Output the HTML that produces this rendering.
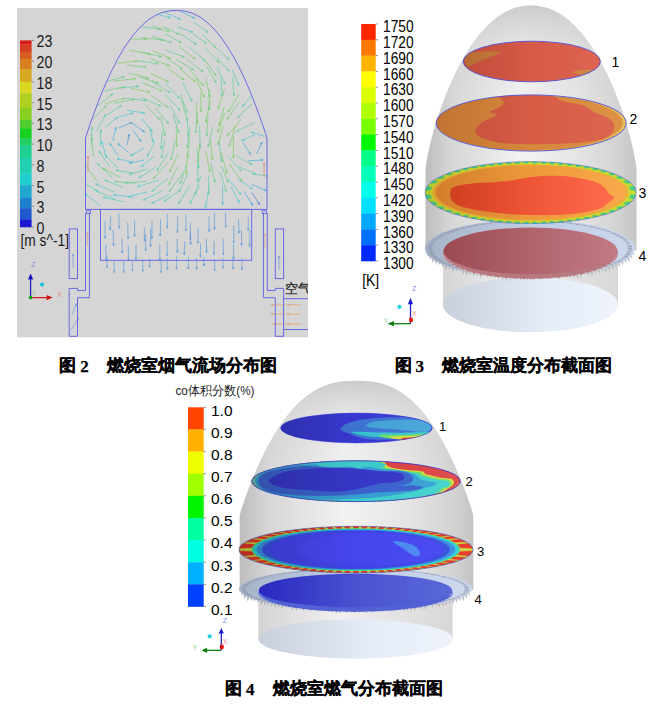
<!DOCTYPE html><html><head><meta charset="utf-8"><style>
html,body{margin:0;padding:0}
body{width:667px;height:706px;background:#fff;position:relative;overflow:hidden}
svg{position:absolute;left:0;top:0}
.lb{font-family:"Liberation Sans",sans-serif;font-size:16px;fill:#1a1a1a}
.lb3{font-family:"Liberation Sans",sans-serif;font-size:16.9px;fill:#000}
.lb4{font-family:"Liberation Sans",sans-serif;font-size:15.5px;fill:#000}
.nb{font-family:"Liberation Sans",sans-serif;font-size:14px;fill:#000}
.nb4{font-family:"Liberation Sans",sans-serif;font-size:13px;fill:#000}
.ax{font-family:"Liberation Sans",sans-serif;font-size:7px}
.zh{font-family:"Liberation Sans",sans-serif;fill:#222}
.cap{position:absolute;font-family:"Liberation Serif",serif;font-weight:bold;font-size:17px;line-height:20px;white-space:nowrap;color:#000;-webkit-text-stroke:0.25px #000}
</style></head><body>
<svg width="667" height="706" viewBox="0 0 667 706">
<defs>
<filter id="bl" x="-5%" y="-20%" width="110%" height="140%"><feGaussianBlur stdDeviation="0.45"/></filter>
<linearGradient id="eggG" x1="0" x2="1" y1="0" y2="0">
<stop offset="0" stop-color="#bdbdbd"/><stop offset="0.12" stop-color="#d6d6d6"/><stop offset="0.45" stop-color="#f2f2f2"/><stop offset="0.7" stop-color="#e6e6e6"/><stop offset="0.92" stop-color="#d2d2d2"/><stop offset="1" stop-color="#c4c4c4"/>
</linearGradient>
<linearGradient id="eggTop" x1="0" x2="0" y1="0" y2="1">
<stop offset="0" stop-color="#c8c8c8" stop-opacity="0.9"/><stop offset="0.18" stop-color="#d0d0d0" stop-opacity="0.3"/><stop offset="0.4" stop-color="#d0d0d0" stop-opacity="0"/>
</linearGradient>
<linearGradient id="eggTop4" x1="0" x2="0" y1="0" y2="1">
<stop offset="0" stop-color="#c8c8c8" stop-opacity="0.9"/><stop offset="0.18" stop-color="#d0d0d0" stop-opacity="0.3"/><stop offset="0.4" stop-color="#d0d0d0" stop-opacity="0"/>
</linearGradient>
<linearGradient id="cylG" x1="0" x2="1" y1="0" y2="0">
<stop offset="0" stop-color="#d4d4d4"/><stop offset="0.4" stop-color="#efefef"/><stop offset="1" stop-color="#d8d8d8"/>
</linearGradient>
<linearGradient id="baseG" x1="0" x2="1" y1="0" y2="0">
<stop offset="0" stop-color="#c9d0dc"/><stop offset="0.6" stop-color="#e6edf8"/><stop offset="1" stop-color="#eef3fb"/>
</linearGradient>
<linearGradient id="disc4" x1="0" x2="1" y1="0" y2="0">
<stop offset="0" stop-color="#9c4a52"/><stop offset="0.5" stop-color="#b0646c"/><stop offset="1" stop-color="#c07a82"/>
</linearGradient>
<linearGradient id="disc4b" x1="0" x2="1" y1="0" y2="0">
<stop offset="0" stop-color="#2828c0"/><stop offset="0.5" stop-color="#4a52d0"/><stop offset="1" stop-color="#5a68d8"/>
</linearGradient>
<linearGradient id="shade" x1="0" x2="1" y1="0" y2="0">
<stop offset="0" stop-color="#500000" stop-opacity="0.2"/><stop offset="0.5" stop-color="#500000" stop-opacity="0.04"/><stop offset="1" stop-color="#fff" stop-opacity="0.06"/>
</linearGradient>
<linearGradient id="shade4" x1="0" x2="1" y1="0" y2="0">
<stop offset="0" stop-color="#000" stop-opacity="0.2"/><stop offset="0.5" stop-color="#000" stop-opacity="0.03"/><stop offset="1" stop-color="#fff" stop-opacity="0.05"/>
</linearGradient>
<linearGradient id="ringG" x1="0" x2="1" y1="0" y2="0">
<stop offset="0" stop-color="#a6b4ca"/><stop offset="0.5" stop-color="#c0cce2"/><stop offset="1" stop-color="#ccd8ee"/>
</linearGradient>
<linearGradient id="or3" x1="0" x2="1" y1="0" y2="0">
<stop offset="0" stop-color="#e08a30"/><stop offset="0.5" stop-color="#f09c3c"/><stop offset="1" stop-color="#faa848"/>
</linearGradient>
<linearGradient id="rd3" x1="0" x2="1" y1="0" y2="0">
<stop offset="0" stop-color="#dc4424"/><stop offset="0.5" stop-color="#f25838"/><stop offset="1" stop-color="#ff6a4a"/>
</linearGradient>
</defs><clipPath id="c2"><rect x="17" y="8" width="291" height="329.3"/></clipPath>
<rect x="17" y="8" width="291" height="329.3" fill="#d5d5d5"/>
<g clip-path="url(#c2)">
<rect x="20" y="40.40" width="11.6" height="4.10" fill="#d81818"/>
<rect x="20" y="44.20" width="11.6" height="7.80" fill="#d83c20"/>
<rect x="20" y="51.70" width="11.6" height="7.40" fill="#d85c20"/>
<rect x="20" y="58.80" width="11.6" height="10.50" fill="#d88020"/>
<rect x="20" y="69.00" width="11.6" height="13.00" fill="#d8a820"/>
<rect x="20" y="81.70" width="11.6" height="12.00" fill="#d8d820"/>
<rect x="20" y="93.40" width="11.6" height="14.90" fill="#b0d020"/>
<rect x="20" y="108.00" width="11.6" height="12.00" fill="#88d020"/>
<rect x="20" y="119.70" width="11.6" height="8.90" fill="#50d030"/>
<rect x="20" y="128.30" width="11.6" height="10.40" fill="#18d020"/>
<rect x="20" y="138.40" width="11.6" height="7.00" fill="#20d060"/>
<rect x="20" y="145.10" width="11.6" height="12.90" fill="#20d090"/>
<rect x="20" y="157.70" width="11.6" height="16.00" fill="#20d0b0"/>
<rect x="20" y="173.40" width="11.6" height="12.20" fill="#20d0d0"/>
<rect x="20" y="185.30" width="11.6" height="12.90" fill="#20a8d0"/>
<rect x="20" y="197.90" width="11.6" height="10.70" fill="#2080d0"/>
<rect x="20" y="208.30" width="11.6" height="11.50" fill="#2058d0"/>
<rect x="20" y="219.50" width="11.6" height="7.80" fill="#1818d0"/>
<line x1="31.6" y1="40.4" x2="34" y2="40.4" stroke="#777" stroke-width="0.8"/>
<text x="36.6" y="47.4" class="lb" textLength="15.8" lengthAdjust="spacingAndGlyphs">23</text>
<line x1="31.6" y1="61.1" x2="34" y2="61.1" stroke="#777" stroke-width="0.8"/>
<text x="36.6" y="68.1" class="lb" textLength="15.8" lengthAdjust="spacingAndGlyphs">20</text>
<line x1="31.6" y1="81.9" x2="34" y2="81.9" stroke="#777" stroke-width="0.8"/>
<text x="36.6" y="88.9" class="lb" textLength="15.8" lengthAdjust="spacingAndGlyphs">18</text>
<line x1="31.6" y1="102.6" x2="34" y2="102.6" stroke="#777" stroke-width="0.8"/>
<text x="36.6" y="109.6" class="lb" textLength="15.8" lengthAdjust="spacingAndGlyphs">15</text>
<line x1="31.6" y1="123.3" x2="34" y2="123.3" stroke="#777" stroke-width="0.8"/>
<text x="36.6" y="130.3" class="lb" textLength="15.8" lengthAdjust="spacingAndGlyphs">13</text>
<line x1="31.6" y1="144.1" x2="34" y2="144.1" stroke="#777" stroke-width="0.8"/>
<text x="36.6" y="151.1" class="lb" textLength="15.8" lengthAdjust="spacingAndGlyphs">10</text>
<line x1="31.6" y1="164.8" x2="34" y2="164.8" stroke="#777" stroke-width="0.8"/>
<text x="36.6" y="171.8" class="lb" textLength="7.9" lengthAdjust="spacingAndGlyphs">8</text>
<line x1="31.6" y1="185.5" x2="34" y2="185.5" stroke="#777" stroke-width="0.8"/>
<text x="36.6" y="192.5" class="lb" textLength="7.9" lengthAdjust="spacingAndGlyphs">5</text>
<line x1="31.6" y1="206.3" x2="34" y2="206.3" stroke="#777" stroke-width="0.8"/>
<text x="36.6" y="213.3" class="lb" textLength="7.9" lengthAdjust="spacingAndGlyphs">3</text>
<line x1="31.6" y1="227.0" x2="34" y2="227.0" stroke="#777" stroke-width="0.8"/>
<text x="36.6" y="234.0" class="lb" textLength="7.9" lengthAdjust="spacingAndGlyphs">0</text>
<text x="20.5" y="245.5" class="lb" textLength="48.5" lengthAdjust="spacingAndGlyphs">[m s^-1]</text>
<clipPath id="cd"><path d="M85.50,138.00 L86.60,134.62 L87.71,131.27 L88.82,127.95 L89.94,124.67 L91.06,121.43 L92.19,118.22 L93.33,115.05 L94.47,111.91 L95.62,108.81 L96.77,105.74 L97.93,102.71 L99.09,99.72 L100.27,96.76 L101.45,93.85 L102.63,90.97 L103.83,88.12 L105.03,85.32 L106.24,82.56 L107.45,79.83 L108.68,77.14 L109.91,74.50 L111.15,71.89 L112.40,69.33 L113.66,66.81 L114.93,64.32 L116.21,61.88 L117.50,59.49 L118.80,57.13 L120.11,54.82 L121.43,52.56 L122.77,50.34 L124.12,48.16 L125.48,46.03 L126.85,43.95 L128.24,41.92 L129.64,39.93 L131.07,37.99 L132.50,36.11 L133.96,34.27 L135.43,32.48 L136.93,30.75 L138.44,29.07 L139.98,27.45 L141.55,25.88 L143.14,24.37 L144.76,22.92 L146.41,21.54 L148.10,20.21 L149.82,18.95 L151.59,17.75 L153.41,16.63 L155.29,15.57 L157.23,14.60 L159.25,13.70 L161.36,12.89 L163.59,12.17 L165.98,11.56 L168.60,11.05 L171.63,10.68 L176.25,10.50 L180.87,10.68 L183.90,11.05 L186.52,11.56 L188.91,12.17 L191.14,12.89 L193.25,13.70 L195.27,14.60 L197.21,15.57 L199.09,16.63 L200.91,17.75 L202.68,18.95 L204.40,20.21 L206.09,21.54 L207.74,22.92 L209.36,24.37 L210.95,25.88 L212.52,27.45 L214.06,29.07 L215.57,30.75 L217.07,32.48 L218.54,34.27 L220.00,36.11 L221.43,37.99 L222.86,39.93 L224.26,41.92 L225.65,43.95 L227.02,46.03 L228.38,48.16 L229.73,50.34 L231.07,52.56 L232.39,54.82 L233.70,57.13 L235.00,59.49 L236.29,61.88 L237.57,64.32 L238.84,66.81 L240.10,69.33 L241.35,71.89 L242.59,74.50 L243.82,77.14 L245.05,79.83 L246.26,82.56 L247.47,85.32 L248.67,88.12 L249.87,90.97 L251.05,93.85 L252.23,96.76 L253.41,99.72 L254.57,102.71 L255.73,105.74 L256.88,108.81 L258.03,111.91 L259.17,115.05 L260.31,118.22 L261.44,121.43 L262.56,124.67 L263.68,127.95 L264.79,131.27 L265.90,134.62 L267.00,138.00 L267,209.4 L85.5,209.4 Z"/></clipPath>
<g clip-path="url(#cd)">
<path d="M153.3,13.2 L170.4,17.8 M167.8,18.0 L170.4,17.8 L168.2,16.3" stroke="#46c8d6" stroke-width="0.85" fill="none" opacity="0.80"/>
<path d="M164.1,12.0 L180.5,19.4 M177.9,19.2 L180.5,19.4 L178.6,17.6" stroke="#47c8d2" stroke-width="0.85" fill="none" opacity="0.80"/>
<path d="M180.9,11.4 L194.6,18.2 M192.1,17.9 L194.6,18.2 L192.8,16.3" stroke="#46b6d9" stroke-width="0.85" fill="none" opacity="0.80"/>
<path d="M141.2,26.6 L161.0,29.4 M158.4,30.0 L161.0,29.4 L158.7,28.2" stroke="#5ccd99" stroke-width="0.85" fill="none" opacity="0.80"/>
<path d="M152.6,26.1 L169.2,31.6 M166.6,31.7 L169.2,31.6 L167.2,30.0" stroke="#71cd68" stroke-width="0.85" fill="none" opacity="0.80"/>
<path d="M163.3,26.8 L178.9,34.2 M176.4,34.0 L178.9,34.2 L177.1,32.3" stroke="#67cd81" stroke-width="0.85" fill="none" opacity="0.80"/>
<path d="M177.4,26.7 L193.0,32.3 M190.4,32.3 L193.0,32.3 L191.0,30.6" stroke="#4dc9c1" stroke-width="0.85" fill="none" opacity="0.80"/>
<path d="M193.3,21.9 L208.1,32.5 M205.6,31.8 L208.1,32.5 L206.7,30.3" stroke="#58cca2" stroke-width="0.85" fill="none" opacity="0.80"/>
<path d="M127.4,39.4 L146.4,38.8 M144.0,39.7 L146.4,38.8 L143.9,37.9" stroke="#72cd66" stroke-width="0.85" fill="none" opacity="0.80"/>
<path d="M142.4,37.7 L163.6,40.2 M161.0,40.8 L163.6,40.2 L161.2,39.0" stroke="#69cd7a" stroke-width="0.85" fill="none" opacity="0.80"/>
<path d="M151.6,36.1 L171.2,42.7 M168.6,42.8 L171.2,42.7 L169.2,41.1" stroke="#64cd86" stroke-width="0.85" fill="none" opacity="0.80"/>
<path d="M165.7,34.0 L181.4,42.7 M178.8,42.3 L181.4,42.7 L179.7,40.7" stroke="#61cd8e" stroke-width="0.85" fill="none" opacity="0.80"/>
<path d="M179.6,33.3 L196.5,44.3 M193.9,43.7 L196.5,44.3 L194.9,42.2" stroke="#60cd91" stroke-width="0.85" fill="none" opacity="0.80"/>
<path d="M192.6,33.9 L206.8,43.4 M204.3,42.7 L206.8,43.4 L205.3,41.3" stroke="#61cd8d" stroke-width="0.85" fill="none" opacity="0.80"/>
<path d="M202.2,34.1 L215.4,47.4 M213.0,46.3 L215.4,47.4 L214.3,45.0" stroke="#62cd8b" stroke-width="0.85" fill="none" opacity="0.80"/>
<path d="M129.7,50.2 L150.7,54.1 M148.1,54.5 L150.7,54.1 L148.4,52.8" stroke="#78cd5a" stroke-width="0.85" fill="none" opacity="0.80"/>
<path d="M140.7,52.4 L161.3,56.7 M158.7,57.1 L161.3,56.7 L159.1,55.4" stroke="#66cd83" stroke-width="0.85" fill="none" opacity="0.80"/>
<path d="M152.8,50.7 L171.0,58.5 M168.4,58.4 L171.0,58.5 L169.1,56.7" stroke="#78cd5a" stroke-width="0.85" fill="none" opacity="0.80"/>
<path d="M165.4,49.9 L184.4,57.1 M181.8,57.1 L184.4,57.1 L182.4,55.4" stroke="#61cd8e" stroke-width="0.85" fill="none" opacity="0.80"/>
<path d="M179.0,46.6 L195.1,59.0 M192.6,58.2 L195.1,59.0 L193.7,56.8" stroke="#75cd60" stroke-width="0.85" fill="none" opacity="0.80"/>
<path d="M189.4,47.1 L204.7,60.6 M202.3,59.7 L204.7,60.6 L203.5,58.3" stroke="#5ccd9a" stroke-width="0.85" fill="none" opacity="0.80"/>
<path d="M205.3,47.9 L218.9,62.6 M216.5,61.4 L218.9,62.6 L217.9,60.2" stroke="#6ccd73" stroke-width="0.85" fill="none" opacity="0.80"/>
<path d="M215.2,46.9 L229.0,59.5 M226.6,58.5 L229.0,59.5 L227.8,57.2" stroke="#60cd90" stroke-width="0.85" fill="none" opacity="0.80"/>
<path d="M117.2,63.3 L137.4,61.0 M135.1,62.2 L137.4,61.0 L134.9,60.4" stroke="#77cd5b" stroke-width="0.85" fill="none" opacity="0.80"/>
<path d="M126.8,65.0 L145.8,67.2 M143.3,67.8 L145.8,67.2 L143.5,66.1" stroke="#6fcd6e" stroke-width="0.85" fill="none" opacity="0.80"/>
<path d="M138.5,60.9 L158.2,63.8 M155.7,64.3 L158.2,63.8 L155.9,62.5" stroke="#62cd8c" stroke-width="0.85" fill="none" opacity="0.80"/>
<path d="M150.7,58.6 L169.6,65.8 M167.0,65.7 L169.6,65.8 L167.6,64.1" stroke="#75cd5f" stroke-width="0.85" fill="none" opacity="0.80"/>
<path d="M166.8,57.9 L182.2,69.0 M179.7,68.3 L182.2,69.0 L180.8,66.8" stroke="#6bcd76" stroke-width="0.85" fill="none" opacity="0.80"/>
<path d="M175.5,59.0 L193.8,69.9 M191.3,69.5 L193.8,69.9 L192.2,67.9" stroke="#68cd7d" stroke-width="0.85" fill="none" opacity="0.80"/>
<path d="M187.1,59.7 L203.3,71.7 M200.8,71.0 L203.3,71.7 L201.9,69.5" stroke="#64cd88" stroke-width="0.85" fill="none" opacity="0.80"/>
<path d="M205.0,59.9 L216.0,75.6 M213.8,74.1 L216.0,75.6 L215.3,73.1" stroke="#70cd6b" stroke-width="0.85" fill="none" opacity="0.80"/>
<path d="M216.7,57.3 L229.0,71.2 M226.7,69.9 L229.0,71.2 L228.0,68.7" stroke="#58cca4" stroke-width="0.85" fill="none" opacity="0.80"/>
<path d="M105.0,82.1 L124.5,76.6 M122.4,78.1 L124.5,76.6 L121.9,76.4" stroke="#64cd88" stroke-width="0.85" fill="none" opacity="0.80"/>
<path d="M113.9,81.1 L135.6,78.6 M133.3,79.7 L135.6,78.6 L133.1,78.0" stroke="#78cd5a" stroke-width="0.85" fill="none" opacity="0.80"/>
<path d="M128.6,73.0 L148.5,78.1 M145.9,78.3 L148.5,78.1 L146.4,76.6" stroke="#6ccd74" stroke-width="0.85" fill="none" opacity="0.80"/>
<path d="M139.4,76.9 L158.4,82.9 M155.8,83.0 L158.4,82.9 L156.3,81.3" stroke="#6fcd6d" stroke-width="0.85" fill="none" opacity="0.80"/>
<path d="M150.7,73.6 L168.7,81.9 M166.2,81.7 L168.7,81.9 L166.9,80.1" stroke="#78cd5a" stroke-width="0.85" fill="none" opacity="0.80"/>
<path d="M167.9,68.3 L184.0,79.9 M181.5,79.2 L184.0,79.9 L182.5,77.7" stroke="#78cd5a" stroke-width="0.85" fill="none" opacity="0.80"/>
<path d="M180.3,69.2 L195.1,81.7 M192.7,80.8 L195.1,81.7 L193.8,79.5" stroke="#78cd5a" stroke-width="0.85" fill="none" opacity="0.80"/>
<path d="M190.1,69.7 L203.4,85.6 M201.1,84.3 L203.4,85.6 L202.5,83.2" stroke="#72cd66" stroke-width="0.85" fill="none" opacity="0.80"/>
<path d="M206.8,66.4 L216.1,83.0 M214.1,81.3 L216.1,83.0 L215.7,80.4" stroke="#66cd83" stroke-width="0.85" fill="none" opacity="0.80"/>
<path d="M217.0,67.3 L225.0,84.2 M223.2,82.4 L225.0,84.2 L224.8,81.6" stroke="#57cca6" stroke-width="0.85" fill="none" opacity="0.80"/>
<path d="M232.3,69.8 L238.6,85.3 M236.9,83.4 L238.6,85.3 L238.5,82.7" stroke="#50caba" stroke-width="0.85" fill="none" opacity="0.80"/>
<path d="M104.9,90.8 L124.7,87.0 M122.5,88.3 L124.7,87.0 L122.1,86.6" stroke="#6bcd76" stroke-width="0.85" fill="none" opacity="0.80"/>
<path d="M117.4,88.1 L138.8,86.3 M136.5,87.4 L138.8,86.3 L136.3,85.6" stroke="#5ccd99" stroke-width="0.85" fill="none" opacity="0.80"/>
<path d="M130.3,88.4 L149.8,92.0 M147.2,92.4 L149.8,92.0 L147.5,90.7" stroke="#78cd5a" stroke-width="0.85" fill="none" opacity="0.80"/>
<path d="M142.9,82.9 L162.0,90.8 M159.4,90.7 L162.0,90.8 L160.1,89.1" stroke="#70cd6b" stroke-width="0.85" fill="none" opacity="0.80"/>
<path d="M151.9,81.3 L170.1,92.6 M167.5,92.0 L170.1,92.6 L168.5,90.5" stroke="#5ccd99" stroke-width="0.85" fill="none" opacity="0.80"/>
<path d="M165.2,83.3 L179.6,98.6 M177.3,97.4 L179.6,98.6 L178.6,96.2" stroke="#5bcd9d" stroke-width="0.85" fill="none" opacity="0.80"/>
<path d="M182.7,82.4 L192.0,101.4 M190.1,99.6 L192.0,101.4 L191.7,98.8" stroke="#5ccd9a" stroke-width="0.85" fill="none" opacity="0.80"/>
<path d="M195.6,77.3 L204.5,97.3 M202.7,95.4 L204.5,97.3 L204.3,94.7" stroke="#78cd5a" stroke-width="0.85" fill="none" opacity="0.80"/>
<path d="M205.7,78.3 L209.9,97.2 M208.5,95.0 L209.9,97.2 L210.2,94.6" stroke="#73cd63" stroke-width="0.85" fill="none" opacity="0.80"/>
<path d="M220.7,78.0 L222.3,96.0 M221.2,93.6 L222.3,96.0 L222.9,93.5" stroke="#55cbac" stroke-width="0.85" fill="none" opacity="0.80"/>
<path d="M232.6,77.3 L234.0,95.6 M232.9,93.2 L234.0,95.6 L234.7,93.1" stroke="#5dcd97" stroke-width="0.85" fill="none" opacity="0.80"/>
<path d="M96.4,106.8 L112.9,93.7 M111.5,95.9 L112.9,93.7 L110.4,94.5" stroke="#60cd90" stroke-width="0.85" fill="none" opacity="0.80"/>
<path d="M104.9,103.8 L124.7,98.3 M122.6,99.8 L124.7,98.3 L122.1,98.1" stroke="#74cd62" stroke-width="0.85" fill="none" opacity="0.80"/>
<path d="M114.5,103.3 L134.6,99.3 M132.4,100.6 L134.6,99.3 L132.1,98.9" stroke="#68cd7e" stroke-width="0.85" fill="none" opacity="0.80"/>
<path d="M125.4,98.2 L146.2,100.6 M143.7,101.2 L146.2,100.6 L143.9,99.4" stroke="#5ecd96" stroke-width="0.85" fill="none" opacity="0.80"/>
<path d="M141.7,97.7 L160.9,106.2 M158.3,106.0 L160.9,106.2 L159.0,104.4" stroke="#5ecd96" stroke-width="0.85" fill="none" opacity="0.80"/>
<path d="M150.9,95.3 L168.6,107.8 M166.1,107.1 L168.6,107.8 L167.1,105.7" stroke="#6fcd6d" stroke-width="0.85" fill="none" opacity="0.80"/>
<path d="M165.7,95.0 L180.1,110.5 M177.8,109.4 L180.1,110.5 L179.1,108.1" stroke="#5ccd9a" stroke-width="0.85" fill="none" opacity="0.80"/>
<path d="M180.5,94.5 L187.3,112.9 M185.7,110.9 L187.3,112.9 L187.3,110.3" stroke="#5fcd93" stroke-width="0.85" fill="none" opacity="0.80"/>
<path d="M200.8,92.3 L200.9,111.7 M200.0,109.3 L200.9,111.7 L201.8,109.3" stroke="#76cd5e" stroke-width="0.85" fill="none" opacity="0.80"/>
<path d="M208.9,89.0 L209.3,109.8 M208.4,107.4 L209.3,109.8 L210.2,107.4" stroke="#69cd7b" stroke-width="0.85" fill="none" opacity="0.80"/>
<path d="M224.5,88.9 L218.1,108.8 M218.0,106.2 L218.1,108.8 L219.7,106.7" stroke="#78cd5a" stroke-width="0.85" fill="none" opacity="0.80"/>
<path d="M239.1,94.3 L228.1,112.0 M228.7,109.4 L228.1,112.0 L230.2,110.3" stroke="#73cd63" stroke-width="0.85" fill="none" opacity="0.80"/>
<path d="M252.6,94.0 L242.3,106.8 M243.2,104.3 L242.3,106.8 L244.5,105.4" stroke="#4cc9c4" stroke-width="0.85" fill="none" opacity="0.80"/>
<path d="M91.5,119.9 L106.5,105.7 M105.3,108.1 L106.5,105.7 L104.1,106.8" stroke="#69cd7a" stroke-width="0.85" fill="none" opacity="0.80"/>
<path d="M106.5,115.5 L121.1,105.7 M119.6,107.8 L121.1,105.7 L118.6,106.3" stroke="#56cca9" stroke-width="0.85" fill="none" opacity="0.80"/>
<path d="M117.6,117.4 L133.1,113.1 M131.0,114.6 L133.1,113.1 L130.5,112.9" stroke="#48c8d1" stroke-width="0.85" fill="none" opacity="0.80"/>
<path d="M127.3,110.4 L144.7,113.0 M142.1,113.5 L144.7,113.0 L142.4,111.8" stroke="#47c8d2" stroke-width="0.85" fill="none" opacity="0.80"/>
<path d="M145.7,105.1 L159.4,119.3 M157.0,118.2 L159.4,119.3 L158.3,116.9" stroke="#67cd81" stroke-width="0.85" fill="none" opacity="0.80"/>
<path d="M155.2,107.7 L168.5,123.6 M166.2,122.3 L168.5,123.6 L167.6,121.2" stroke="#63cd89" stroke-width="0.85" fill="none" opacity="0.80"/>
<path d="M170.7,105.6 L179.4,123.2 M177.5,121.4 L179.4,123.2 L179.1,120.6" stroke="#5bcd9d" stroke-width="0.85" fill="none" opacity="0.80"/>
<path d="M181.3,100.0 L187.5,121.0 M185.9,118.9 L187.5,121.0 L187.6,118.4" stroke="#6acd79" stroke-width="0.85" fill="none" opacity="0.80"/>
<path d="M196.4,102.2 L197.3,123.4 M196.3,121.0 L197.3,123.4 L198.1,120.9" stroke="#78cd5a" stroke-width="0.85" fill="none" opacity="0.80"/>
<path d="M210.4,100.8 L205.6,122.1 M205.2,119.5 L205.6,122.1 L207.0,119.9" stroke="#77cd5c" stroke-width="0.85" fill="none" opacity="0.80"/>
<path d="M224.2,106.6 L219.0,125.1 M218.8,122.5 L219.0,125.1 L220.5,123.0" stroke="#78cd5a" stroke-width="0.85" fill="none" opacity="0.80"/>
<path d="M239.9,101.4 L227.0,119.2 M227.7,116.7 L227.0,119.2 L229.2,117.7" stroke="#71cd69" stroke-width="0.85" fill="none" opacity="0.80"/>
<path d="M252.4,103.5 L237.8,117.6 M238.9,115.3 L237.8,117.6 L240.1,116.6" stroke="#5fcd92" stroke-width="0.85" fill="none" opacity="0.80"/>
<path d="M97.0,130.4 L105.7,114.3 M105.4,116.9 L105.7,114.3 L103.8,116.0" stroke="#54cbae" stroke-width="0.85" fill="none" opacity="0.80"/>
<path d="M105.2,127.4 L117.4,117.1 M116.1,119.3 L117.4,117.1 L115.0,118.0" stroke="#4ecabf" stroke-width="0.85" fill="none" opacity="0.80"/>
<path d="M118.9,128.0 L132.0,122.4 M130.1,124.2 L132.0,122.4 L129.4,122.6" stroke="#46a1db" stroke-width="0.85" fill="none" opacity="0.80"/>
<path d="M131.8,123.0 L144.7,132.1 M142.2,131.4 L144.7,132.1 L143.2,129.9" stroke="#46a5db" stroke-width="0.85" fill="none" opacity="0.80"/>
<path d="M141.8,118.9 L152.4,131.6 M150.2,130.3 L152.4,131.6 L151.5,129.1" stroke="#47c8d3" stroke-width="0.85" fill="none" opacity="0.80"/>
<path d="M160.5,117.1 L165.0,135.6 M163.6,133.5 L165.0,135.6 L165.3,133.0" stroke="#63cd89" stroke-width="0.85" fill="none" opacity="0.80"/>
<path d="M173.0,113.8 L178.9,132.9 M177.3,130.8 L178.9,132.9 L179.0,130.3" stroke="#5dcd96" stroke-width="0.85" fill="none" opacity="0.80"/>
<path d="M187.1,117.2 L188.2,136.6 M187.1,134.2 L188.2,136.6 L188.9,134.1" stroke="#5dcd97" stroke-width="0.85" fill="none" opacity="0.80"/>
<path d="M197.0,112.2 L195.9,132.9 M195.1,130.4 L195.9,132.9 L196.9,130.5" stroke="#65cd86" stroke-width="0.85" fill="none" opacity="0.80"/>
<path d="M208.1,116.4 L206.7,136.0 M205.9,133.5 L206.7,136.0 L207.7,133.6" stroke="#66cd81" stroke-width="0.85" fill="none" opacity="0.80"/>
<path d="M224.7,113.2 L217.8,132.0 M217.8,129.4 L217.8,132.0 L219.5,130.0" stroke="#78cd5a" stroke-width="0.85" fill="none" opacity="0.80"/>
<path d="M241.2,119.3 L227.4,135.5 M228.3,133.0 L227.4,135.5 L229.7,134.2" stroke="#73cd63" stroke-width="0.85" fill="none" opacity="0.80"/>
<path d="M254.6,122.5 L236.7,131.3 M238.5,129.5 L236.7,131.3 L239.2,131.1" stroke="#64cd88" stroke-width="0.85" fill="none" opacity="0.80"/>
<path d="M91.8,145.4 L91.9,127.1 M92.8,129.6 L91.9,127.1 L91.0,129.6" stroke="#58cca5" stroke-width="0.85" fill="none" opacity="0.80"/>
<path d="M100.5,146.3 L100.7,129.8 M101.6,132.3 L100.7,129.8 L99.8,132.3" stroke="#59cca0" stroke-width="0.85" fill="none" opacity="0.80"/>
<path d="M112.6,140.9 L116.1,127.4 M116.3,130.0 L116.1,127.4 L114.6,129.6" stroke="#46b4d9" stroke-width="0.85" fill="none" opacity="0.80"/>
<path d="M127.1,145.1 L129.2,134.3 M129.6,136.8 L129.2,134.3 L127.9,136.5" stroke="#4690dc" stroke-width="0.85" fill="none" opacity="0.80"/>
<path d="M133.3,130.5 L141.1,141.5 M139.0,140.0 L141.1,141.5 L140.4,139.0" stroke="#46b2d9" stroke-width="0.85" fill="none" opacity="0.80"/>
<path d="M149.6,127.1 L153.1,142.1 M151.7,139.9 L153.1,142.1 L153.4,139.5" stroke="#4fcabc" stroke-width="0.85" fill="none" opacity="0.80"/>
<path d="M162.3,130.7 L161.1,148.6 M160.3,146.1 L161.1,148.6 L162.1,146.2" stroke="#58cca4" stroke-width="0.85" fill="none" opacity="0.80"/>
<path d="M176.2,126.6 L176.8,146.9 M175.8,144.5 L176.8,146.9 L177.6,144.5" stroke="#78cd5a" stroke-width="0.85" fill="none" opacity="0.80"/>
<path d="M190.2,126.9 L187.1,147.5 M186.5,144.9 L187.1,147.5 L188.3,145.2" stroke="#5ecd95" stroke-width="0.85" fill="none" opacity="0.80"/>
<path d="M199.6,125.6 L200.2,147.5 M199.2,145.1 L200.2,147.5 L201.0,145.0" stroke="#5bcd9c" stroke-width="0.85" fill="none" opacity="0.80"/>
<path d="M212.6,127.0 L208.3,146.7 M207.9,144.2 L208.3,146.7 L209.7,144.6" stroke="#63cd89" stroke-width="0.85" fill="none" opacity="0.80"/>
<path d="M223.2,125.5 L218.1,144.9 M217.9,142.3 L218.1,144.9 L219.6,142.8" stroke="#78cd5a" stroke-width="0.85" fill="none" opacity="0.80"/>
<path d="M235.8,125.7 L229.1,146.6 M229.0,144.0 L229.1,146.6 L230.7,144.5" stroke="#78cd5a" stroke-width="0.85" fill="none" opacity="0.80"/>
<path d="M254.5,135.0 L241.7,140.5 M243.5,138.7 L241.7,140.5 L244.2,140.3" stroke="#49c8cc" stroke-width="0.85" fill="none" opacity="0.80"/>
<path d="M264.6,136.2 L251.3,132.3 M253.9,132.1 L251.3,132.3 L253.4,133.8" stroke="#46c8d4" stroke-width="0.85" fill="none" opacity="0.80"/>
<path d="M93.5,156.7 L91.3,137.7 M92.5,140.0 L91.3,137.7 L90.7,140.3" stroke="#6dcd72" stroke-width="0.85" fill="none" opacity="0.80"/>
<path d="M106.6,157.9 L101.8,141.6 M103.3,143.7 L101.8,141.6 L101.6,144.2" stroke="#46c6d7" stroke-width="0.85" fill="none" opacity="0.80"/>
<path d="M118.4,155.7 L109.7,143.4 M111.9,144.8 L109.7,143.4 L110.4,145.9" stroke="#46b8d8" stroke-width="0.85" fill="none" opacity="0.80"/>
<path d="M128.4,152.2 L117.9,143.6 M120.3,144.4 L117.9,143.6 L119.2,145.8" stroke="#46b2d9" stroke-width="0.85" fill="none" opacity="0.80"/>
<path d="M144.3,148.2 L130.4,155.6 M132.2,153.7 L130.4,155.6 L133.0,155.2" stroke="#46bfd8" stroke-width="0.85" fill="none" opacity="0.80"/>
<path d="M154.6,142.0 L147.4,156.4 M147.7,153.9 L147.4,156.4 L149.3,154.7" stroke="#4ecac0" stroke-width="0.85" fill="none" opacity="0.80"/>
<path d="M164.7,140.0 L161.4,158.2 M161.0,155.7 L161.4,158.2 L162.8,156.0" stroke="#57cca7" stroke-width="0.85" fill="none" opacity="0.80"/>
<path d="M175.4,139.2 L170.9,159.8 M170.5,157.2 L170.9,159.8 L172.3,157.6" stroke="#67cd7f" stroke-width="0.85" fill="none" opacity="0.80"/>
<path d="M189.6,138.1 L187.6,157.2 M186.9,154.7 L187.6,157.2 L188.7,154.9" stroke="#78cd5a" stroke-width="0.85" fill="none" opacity="0.80"/>
<path d="M200.1,141.3 L198.0,162.2 M197.3,159.7 L198.0,162.2 L199.1,159.9" stroke="#78cd5a" stroke-width="0.85" fill="none" opacity="0.80"/>
<path d="M210.4,139.4 L212.4,159.9 M211.3,157.5 L212.4,159.9 L213.1,157.4" stroke="#78cd5a" stroke-width="0.85" fill="none" opacity="0.80"/>
<path d="M219.2,141.8 L221.6,161.9 M220.4,159.5 L221.6,161.9 L222.2,159.3" stroke="#5acd9f" stroke-width="0.85" fill="none" opacity="0.80"/>
<path d="M233.3,136.2 L233.4,157.9 M232.5,155.5 L233.4,157.9 L234.3,155.5" stroke="#78cd5a" stroke-width="0.85" fill="none" opacity="0.80"/>
<path d="M242.8,142.2 L250.5,154.4 M248.5,152.8 L250.5,154.4 L250.0,151.9" stroke="#46acda" stroke-width="0.85" fill="none" opacity="0.80"/>
<path d="M256.6,154.1 L261.9,142.3 M261.8,144.9 L261.9,142.3 L260.1,144.2" stroke="#469edc" stroke-width="0.85" fill="none" opacity="0.80"/>
<path d="M109.8,166.8 L99.0,151.2 M101.1,152.7 L99.0,151.2 L99.6,153.7" stroke="#50caba" stroke-width="0.85" fill="none" opacity="0.80"/>
<path d="M117.9,168.1 L104.9,154.7 M107.2,155.9 L104.9,154.7 L105.9,157.1" stroke="#57cca6" stroke-width="0.85" fill="none" opacity="0.80"/>
<path d="M133.9,162.4 L117.1,158.7 M119.7,158.3 L117.1,158.7 L119.3,160.1" stroke="#46c0d7" stroke-width="0.85" fill="none" opacity="0.80"/>
<path d="M144.2,160.2 L129.1,163.1 M131.4,161.8 L129.1,163.1 L131.7,163.5" stroke="#46b5d9" stroke-width="0.85" fill="none" opacity="0.80"/>
<path d="M154.1,156.2 L141.3,166.6 M142.6,164.4 L141.3,166.6 L143.8,165.7" stroke="#4ac9cb" stroke-width="0.85" fill="none" opacity="0.80"/>
<path d="M168.3,153.0 L156.9,170.7 M157.4,168.2 L156.9,170.7 L158.9,169.2" stroke="#5bcd9d" stroke-width="0.85" fill="none" opacity="0.80"/>
<path d="M178.2,154.0 L169.6,172.0 M169.9,169.4 L169.6,172.0 L171.5,170.2" stroke="#78cd5a" stroke-width="0.85" fill="none" opacity="0.80"/>
<path d="M187.5,153.0 L186.2,174.1 M185.5,171.6 L186.2,174.1 L187.3,171.7" stroke="#78cd5a" stroke-width="0.85" fill="none" opacity="0.80"/>
<path d="M197.0,148.9 L198.7,168.3 M197.6,165.9 L198.7,168.3 L199.4,165.8" stroke="#5ecd96" stroke-width="0.85" fill="none" opacity="0.80"/>
<path d="M205.7,151.3 L210.1,172.1 M208.7,169.9 L210.1,172.1 L210.5,169.5" stroke="#78cd5a" stroke-width="0.85" fill="none" opacity="0.80"/>
<path d="M220.8,152.4 L227.0,173.3 M225.5,171.2 L227.0,173.3 L227.2,170.7" stroke="#78cd5a" stroke-width="0.85" fill="none" opacity="0.80"/>
<path d="M228.3,156.6 L241.2,170.9 M238.9,169.7 L241.2,170.9 L240.3,168.5" stroke="#5ccd99" stroke-width="0.85" fill="none" opacity="0.80"/>
<path d="M236.0,155.7 L252.4,164.8 M249.9,164.4 L252.4,164.8 L250.7,162.9" stroke="#5fcd93" stroke-width="0.85" fill="none" opacity="0.80"/>
<path d="M247.9,160.9 L263.1,159.9 M260.7,161.0 L263.1,159.9 L260.6,159.2" stroke="#46aeda" stroke-width="0.85" fill="none" opacity="0.80"/>
<path d="M96.7,180.5 L84.5,164.0 M86.6,165.5 L84.5,164.0 L85.2,166.5" stroke="#74cd62" stroke-width="0.85" fill="none" opacity="0.80"/>
<path d="M112.1,177.5 L97.2,163.4 M99.6,164.4 L97.2,163.4 L98.4,165.7" stroke="#5ecd94" stroke-width="0.85" fill="none" opacity="0.80"/>
<path d="M120.7,177.5 L102.7,168.3 M105.3,168.6 L102.7,168.3 L104.5,170.2" stroke="#71cd69" stroke-width="0.85" fill="none" opacity="0.80"/>
<path d="M134.6,173.1 L116.0,170.4 M118.5,169.8 L116.0,170.4 L118.2,171.6" stroke="#5ecd94" stroke-width="0.85" fill="none" opacity="0.80"/>
<path d="M147.8,168.9 L129.1,174.7 M131.2,173.1 L129.1,174.7 L131.7,174.8" stroke="#57cca7" stroke-width="0.85" fill="none" opacity="0.80"/>
<path d="M155.7,167.3 L138.9,177.8 M140.5,175.7 L138.9,177.8 L141.5,177.3" stroke="#51cab7" stroke-width="0.85" fill="none" opacity="0.80"/>
<path d="M168.0,162.4 L153.3,178.7 M154.3,176.3 L153.3,178.7 L155.6,177.5" stroke="#71cd69" stroke-width="0.85" fill="none" opacity="0.80"/>
<path d="M177.7,166.6 L168.9,184.6 M169.2,182.0 L168.9,184.6 L170.8,182.8" stroke="#6ecd70" stroke-width="0.85" fill="none" opacity="0.80"/>
<path d="M185.7,165.5 L180.3,183.7 M180.2,181.1 L180.3,183.7 L181.9,181.6" stroke="#5dcd98" stroke-width="0.85" fill="none" opacity="0.80"/>
<path d="M197.9,162.7 L197.6,181.9 M196.8,179.4 L197.6,181.9 L198.5,179.4" stroke="#5fcd92" stroke-width="0.85" fill="none" opacity="0.80"/>
<path d="M210.8,163.3 L214.9,182.1 M213.5,179.9 L214.9,182.1 L215.3,179.5" stroke="#62cd8d" stroke-width="0.85" fill="none" opacity="0.80"/>
<path d="M221.0,165.3 L228.5,182.9 M226.7,181.0 L228.5,182.9 L228.3,180.3" stroke="#64cd87" stroke-width="0.85" fill="none" opacity="0.80"/>
<path d="M229.3,163.8 L242.1,181.4 M239.9,179.9 L242.1,181.4 L241.4,178.9" stroke="#72cd66" stroke-width="0.85" fill="none" opacity="0.80"/>
<path d="M238.2,166.3 L255.5,174.1 M252.9,173.9 L255.5,174.1 L253.6,172.3" stroke="#54cbaf" stroke-width="0.85" fill="none" opacity="0.80"/>
<path d="M252.4,174.0 L268.1,175.9 M265.6,176.5 L268.1,175.9 L265.8,174.8" stroke="#51cab8" stroke-width="0.85" fill="none" opacity="0.80"/>
<path d="M100.4,193.4 L82.7,181.3 M85.2,182.0 L82.7,181.3 L84.2,183.5" stroke="#54cbaf" stroke-width="0.85" fill="none" opacity="0.80"/>
<path d="M114.1,192.1 L95.6,183.9 M98.2,184.0 L95.6,183.9 L97.4,185.7" stroke="#50cabb" stroke-width="0.85" fill="none" opacity="0.80"/>
<path d="M122.8,187.4 L104.9,180.0 M107.5,180.1 L104.9,180.0 L106.8,181.8" stroke="#51cab7" stroke-width="0.85" fill="none" opacity="0.80"/>
<path d="M136.6,183.2 L114.9,181.7 M117.4,181.0 L114.9,181.7 L117.3,182.7" stroke="#62cd8b" stroke-width="0.85" fill="none" opacity="0.80"/>
<path d="M147.1,181.4 L125.3,182.9 M127.6,181.8 L125.3,182.9 L127.8,183.6" stroke="#60cd91" stroke-width="0.85" fill="none" opacity="0.80"/>
<path d="M158.3,180.3 L137.4,186.6 M139.5,185.0 L137.4,186.6 L140.0,186.7" stroke="#4ecabf" stroke-width="0.85" fill="none" opacity="0.80"/>
<path d="M168.4,177.9 L151.8,191.2 M153.2,189.0 L151.8,191.2 L154.3,190.4" stroke="#55cbac" stroke-width="0.85" fill="none" opacity="0.80"/>
<path d="M182.1,174.1 L169.2,191.8 M169.9,189.3 L169.2,191.8 L171.3,190.3" stroke="#61cd8d" stroke-width="0.85" fill="none" opacity="0.80"/>
<path d="M188.2,173.8 L178.9,191.6 M179.2,189.0 L178.9,191.6 L180.8,189.8" stroke="#57cca7" stroke-width="0.85" fill="none" opacity="0.80"/>
<path d="M200.7,176.0 L195.0,194.9 M194.9,192.3 L195.0,194.9 L196.6,192.9" stroke="#59cca1" stroke-width="0.85" fill="none" opacity="0.80"/>
<path d="M208.7,175.6 L208.5,195.0 M207.6,192.5 L208.5,195.0 L209.4,192.5" stroke="#57cca6" stroke-width="0.85" fill="none" opacity="0.80"/>
<path d="M220.2,172.4 L226.2,191.7 M224.7,189.7 L226.2,191.7 L226.4,189.1" stroke="#5ccd9b" stroke-width="0.85" fill="none" opacity="0.80"/>
<path d="M228.5,179.0 L240.8,194.5 M238.6,193.2 L240.8,194.5 L240.0,192.1" stroke="#47c8d4" stroke-width="0.85" fill="none" opacity="0.80"/>
<path d="M238.0,179.2 L252.7,188.9 M250.1,188.3 L252.7,188.9 L251.1,186.8" stroke="#48c8cf" stroke-width="0.85" fill="none" opacity="0.80"/>
<path d="M251.8,184.4 L266.1,190.7 M263.5,190.5 L266.1,190.7 L264.2,188.9" stroke="#46aada" stroke-width="0.85" fill="none" opacity="0.80"/>
<path d="M100.4,205.9 L84.9,193.5 M87.3,194.3 L84.9,193.5 L86.2,195.7" stroke="#46c0d7" stroke-width="0.85" fill="none" opacity="0.80"/>
<path d="M114.3,198.8 L94.9,190.1 M97.5,190.3 L94.9,190.1 L96.8,191.9" stroke="#50caba" stroke-width="0.85" fill="none" opacity="0.80"/>
<path d="M123.4,201.8 L103.3,197.2 M105.8,196.9 L103.3,197.2 L105.4,198.7" stroke="#4ecabe" stroke-width="0.85" fill="none" opacity="0.80"/>
<path d="M134.1,197.2 L113.5,195.0 M116.1,194.4 L113.5,195.0 L115.9,196.1" stroke="#47c8d3" stroke-width="0.85" fill="none" opacity="0.80"/>
<path d="M147.4,192.0 L128.0,196.7 M130.2,195.3 L128.0,196.7 L130.6,197.0" stroke="#47c8d3" stroke-width="0.85" fill="none" opacity="0.80"/>
<path d="M162.4,191.0 L143.2,200.2 M145.0,198.3 L143.2,200.2 L145.8,199.9" stroke="#52cbb4" stroke-width="0.85" fill="none" opacity="0.80"/>
<path d="M169.6,194.5 L151.5,203.4 M153.3,201.5 L151.5,203.4 L154.1,203.1" stroke="#4ecabf" stroke-width="0.85" fill="none" opacity="0.80"/>
<path d="M180.8,189.8 L164.1,201.4 M165.6,199.2 L164.1,201.4 L166.6,200.7" stroke="#52cbb4" stroke-width="0.85" fill="none" opacity="0.80"/>
<path d="M189.7,185.8 L178.4,203.8 M179.0,201.3 L178.4,203.8 L180.5,202.2" stroke="#50cab9" stroke-width="0.85" fill="none" opacity="0.80"/>
<path d="M200.1,185.3 L190.0,203.2 M190.5,200.6 L190.0,203.2 L192.0,201.5" stroke="#53cbb0" stroke-width="0.85" fill="none" opacity="0.80"/>
<path d="M209.1,187.2 L205.4,207.9 M204.9,205.3 L205.4,207.9 L206.7,205.7" stroke="#4ecabe" stroke-width="0.85" fill="none" opacity="0.80"/>
<path d="M222.6,186.0 L222.7,204.6 M221.8,202.2 L222.7,204.6 L223.6,202.2" stroke="#46b7d9" stroke-width="0.85" fill="none" opacity="0.80"/>
<path d="M230.8,186.5 L239.4,202.6 M237.5,200.9 L239.4,202.6 L239.0,200.0" stroke="#46c5d7" stroke-width="0.85" fill="none" opacity="0.80"/>
<path d="M244.0,191.4 L252.7,205.3 M250.6,203.7 L252.7,205.3 L252.1,202.7" stroke="#469fdc" stroke-width="0.85" fill="none" opacity="0.80"/>
<path d="M251.9,192.5 L259.6,204.6 M257.5,203.0 L259.6,204.6 L259.0,202.0" stroke="#4679dc" stroke-width="0.85" fill="none" opacity="0.80"/>
</g>
<path d="M105.0,220.8 L105.1,238.3 M104.3,236.0 L105.1,238.3 L105.9,236.0" stroke="#5a9ad8" stroke-width="0.80" fill="none" opacity="0.85"/>
<path d="M110.6,215.7 L110.1,230.0 M109.4,227.7 L110.1,230.0 L111.0,227.8" stroke="#5a9ad8" stroke-width="0.80" fill="none" opacity="0.85"/>
<path d="M118.8,213.5 L119.3,228.3 M118.4,226.0 L119.3,228.3 L120.1,226.0" stroke="#5a9ad8" stroke-width="0.80" fill="none" opacity="0.85"/>
<path d="M127.7,222.6 L128.1,238.8 M127.2,236.6 L128.1,238.8 L128.9,236.5" stroke="#5a9ad8" stroke-width="0.80" fill="none" opacity="0.85"/>
<path d="M134.6,220.4 L134.6,236.8 M133.8,234.5 L134.6,236.8 L135.4,234.5" stroke="#5a9ad8" stroke-width="0.80" fill="none" opacity="0.85"/>
<path d="M144.3,227.5 L144.5,241.2 M143.7,239.0 L144.5,241.2 L145.3,239.0" stroke="#5a9ad8" stroke-width="0.80" fill="none" opacity="0.85"/>
<path d="M152.0,221.1 L151.9,238.6 M151.1,236.4 L151.9,238.6 L152.7,236.4" stroke="#5a9ad8" stroke-width="0.80" fill="none" opacity="0.85"/>
<path d="M160.6,219.1 L160.2,236.0 M159.4,233.8 L160.2,236.0 L161.1,233.8" stroke="#5a9ad8" stroke-width="0.80" fill="none" opacity="0.85"/>
<path d="M167.2,213.8 L167.3,228.1 M166.5,225.9 L167.3,228.1 L168.1,225.9" stroke="#5a9ad8" stroke-width="0.80" fill="none" opacity="0.85"/>
<path d="M177.6,216.5 L177.4,232.6 M176.6,230.4 L177.4,232.6 L178.2,230.4" stroke="#5a9ad8" stroke-width="0.80" fill="none" opacity="0.85"/>
<path d="M185.8,214.0 L186.0,230.8 M185.2,228.6 L186.0,230.8 L186.8,228.6" stroke="#5a9ad8" stroke-width="0.80" fill="none" opacity="0.85"/>
<path d="M190.4,222.7 L190.3,240.0 M189.5,237.7 L190.3,240.0 L191.1,237.7" stroke="#5a9ad8" stroke-width="0.80" fill="none" opacity="0.85"/>
<path d="M198.2,228.5 L198.0,243.4 M197.2,241.2 L198.0,243.4 L198.9,241.2" stroke="#5a9ad8" stroke-width="0.80" fill="none" opacity="0.85"/>
<path d="M208.9,216.4 L209.1,231.5 M208.2,229.2 L209.1,231.5 L209.9,229.2" stroke="#5a9ad8" stroke-width="0.80" fill="none" opacity="0.85"/>
<path d="M214.4,213.1 L214.5,229.7 M213.7,227.4 L214.5,229.7 L215.3,227.4" stroke="#5a9ad8" stroke-width="0.80" fill="none" opacity="0.85"/>
<path d="M225.5,213.1 L225.8,227.6 M225.0,225.3 L225.8,227.6 L226.6,225.3" stroke="#5a9ad8" stroke-width="0.80" fill="none" opacity="0.85"/>
<path d="M233.8,225.4 L233.8,242.9 M232.9,240.7 L233.8,242.9 L234.6,240.7" stroke="#5a9ad8" stroke-width="0.80" fill="none" opacity="0.85"/>
<path d="M238.4,219.1 L239.0,233.2 M238.0,231.0 L239.0,233.2 L239.7,230.9" stroke="#5a9ad8" stroke-width="0.80" fill="none" opacity="0.85"/>
<path d="M248.3,216.9 L248.2,230.5 M247.4,228.2 L248.2,230.5 L249.1,228.2" stroke="#5a9ad8" stroke-width="0.80" fill="none" opacity="0.85"/>
<path d="M105.7,245.0 L106.2,260.4 M105.3,258.1 L106.2,260.4 L107.0,258.1" stroke="#5a9ad8" stroke-width="0.80" fill="none" opacity="0.85"/>
<path d="M113.1,230.1 L113.6,245.7 M112.7,243.5 L113.6,245.7 L114.3,243.5" stroke="#5a9ad8" stroke-width="0.80" fill="none" opacity="0.85"/>
<path d="M121.9,237.8 L122.2,253.0 M121.4,250.7 L122.2,253.0 L123.0,250.7" stroke="#5a9ad8" stroke-width="0.80" fill="none" opacity="0.85"/>
<path d="M128.2,245.5 L128.6,260.6 M127.7,258.4 L128.6,260.6 L129.3,258.4" stroke="#5a9ad8" stroke-width="0.80" fill="none" opacity="0.85"/>
<path d="M136.1,244.5 L135.9,259.4 M135.1,257.2 L135.9,259.4 L136.7,257.2" stroke="#5a9ad8" stroke-width="0.80" fill="none" opacity="0.85"/>
<path d="M145.7,233.9 L145.6,250.9 M144.8,248.7 L145.6,250.9 L146.5,248.7" stroke="#5a9ad8" stroke-width="0.80" fill="none" opacity="0.85"/>
<path d="M150.6,229.0 L150.6,246.7 M149.8,244.4 L150.6,246.7 L151.4,244.4" stroke="#5a9ad8" stroke-width="0.80" fill="none" opacity="0.85"/>
<path d="M159.8,244.5 L159.8,260.4 M158.9,258.1 L159.8,260.4 L160.6,258.1" stroke="#5a9ad8" stroke-width="0.80" fill="none" opacity="0.85"/>
<path d="M167.1,241.4 L167.2,255.7 M166.3,253.4 L167.2,255.7 L168.0,253.4" stroke="#5a9ad8" stroke-width="0.80" fill="none" opacity="0.85"/>
<path d="M177.0,238.9 L177.4,252.6 M176.5,250.3 L177.4,252.6 L178.1,250.3" stroke="#5a9ad8" stroke-width="0.80" fill="none" opacity="0.85"/>
<path d="M184.8,241.1 L184.2,254.6 M183.5,252.3 L184.2,254.6 L185.2,252.4" stroke="#5a9ad8" stroke-width="0.80" fill="none" opacity="0.85"/>
<path d="M190.5,231.0 L190.6,244.5 M189.8,242.2 L190.6,244.5 L191.4,242.2" stroke="#5a9ad8" stroke-width="0.80" fill="none" opacity="0.85"/>
<path d="M200.5,243.4 L200.3,257.2 M199.5,255.0 L200.3,257.2 L201.1,255.0" stroke="#5a9ad8" stroke-width="0.80" fill="none" opacity="0.85"/>
<path d="M206.4,238.4 L206.6,252.7 M205.7,250.5 L206.6,252.7 L207.4,250.4" stroke="#5a9ad8" stroke-width="0.80" fill="none" opacity="0.85"/>
<path d="M214.2,241.0 L213.9,254.6 M213.1,252.3 L213.9,254.6 L214.8,252.3" stroke="#5a9ad8" stroke-width="0.80" fill="none" opacity="0.85"/>
<path d="M223.3,238.7 L223.4,254.8 M222.5,252.6 L223.4,254.8 L224.2,252.6" stroke="#5a9ad8" stroke-width="0.80" fill="none" opacity="0.85"/>
<path d="M233.5,244.6 L233.7,259.0 M232.8,256.7 L233.7,259.0 L234.5,256.7" stroke="#5a9ad8" stroke-width="0.80" fill="none" opacity="0.85"/>
<path d="M241.5,230.4 L241.6,245.5 M240.8,243.2 L241.6,245.5 L242.4,243.2" stroke="#5a9ad8" stroke-width="0.80" fill="none" opacity="0.85"/>
<path d="M249.9,230.3 L249.6,246.6 M248.8,244.3 L249.6,246.6 L250.4,244.3" stroke="#5a9ad8" stroke-width="0.80" fill="none" opacity="0.85"/>
<path d="M106.9,255.0 L106.9,267.8 M106.2,265.7 L106.9,267.8 L107.7,265.7" stroke="#5a9ad8" stroke-width="0.80" fill="none" opacity="0.80"/>
<path d="M114.2,261.0 L114.2,272.6 M113.5,270.6 L114.2,272.6 L115.0,270.6" stroke="#5a9ad8" stroke-width="0.80" fill="none" opacity="0.80"/>
<path d="M123.7,260.9 L123.7,272.6 M122.9,270.5 L123.7,272.6 L124.4,270.5" stroke="#5a9ad8" stroke-width="0.80" fill="none" opacity="0.80"/>
<path d="M132.4,260.1 L132.4,271.1 M131.6,269.1 L132.4,271.1 L133.1,269.1" stroke="#5a9ad8" stroke-width="0.80" fill="none" opacity="0.80"/>
<path d="M142.8,259.3 L142.8,271.5 M142.1,269.4 L142.8,271.5 L143.6,269.4" stroke="#5a9ad8" stroke-width="0.80" fill="none" opacity="0.80"/>
<path d="M149.6,258.5 L149.6,267.5 M148.9,265.4 L149.6,267.5 L150.4,265.4" stroke="#5a9ad8" stroke-width="0.80" fill="none" opacity="0.80"/>
<path d="M161.2,260.4 L161.2,272.7 M160.4,270.7 L161.2,272.7 L161.9,270.7" stroke="#5a9ad8" stroke-width="0.80" fill="none" opacity="0.80"/>
<path d="M167.2,258.7 L167.2,269.7 M166.4,267.6 L167.2,269.7 L167.9,267.6" stroke="#5a9ad8" stroke-width="0.80" fill="none" opacity="0.80"/>
<path d="M176.5,256.4 L176.5,269.3 M175.7,267.2 L176.5,269.3 L177.2,267.2" stroke="#5a9ad8" stroke-width="0.80" fill="none" opacity="0.80"/>
<path d="M188.4,256.7 L188.4,269.0 M187.7,266.9 L188.4,269.0 L189.2,266.9" stroke="#5a9ad8" stroke-width="0.80" fill="none" opacity="0.80"/>
<path d="M196.6,257.7 L196.6,269.3 M195.8,267.2 L196.6,269.3 L197.4,267.2" stroke="#5a9ad8" stroke-width="0.80" fill="none" opacity="0.80"/>
<path d="M203.9,256.9 L203.9,266.0 M203.2,263.9 L203.9,266.0 L204.7,263.9" stroke="#5a9ad8" stroke-width="0.80" fill="none" opacity="0.80"/>
<path d="M214.6,259.1 L214.6,271.0 M213.9,269.0 L214.6,271.0 L215.4,269.0" stroke="#5a9ad8" stroke-width="0.80" fill="none" opacity="0.80"/>
<path d="M223.0,258.0 L223.0,268.3 M222.3,266.2 L223.0,268.3 L223.8,266.2" stroke="#5a9ad8" stroke-width="0.80" fill="none" opacity="0.80"/>
<path d="M232.9,257.6 L232.9,269.0 M232.2,266.9 L232.9,269.0 L233.7,266.9" stroke="#5a9ad8" stroke-width="0.80" fill="none" opacity="0.80"/>
<path d="M242.0,258.1 L242.0,269.9 M241.3,267.8 L242.0,269.9 L242.8,267.8" stroke="#5a9ad8" stroke-width="0.80" fill="none" opacity="0.80"/>
<path d="M285.2,305.0 L271.2,305.0 M273.3,304.3 L271.2,305.0 L273.3,305.8" stroke="#e0a060" stroke-width="0.80" fill="none" opacity="0.90"/>
<path d="M301.4,304.8 L287.4,304.8 M289.4,304.0 L287.4,304.8 L289.4,305.5" stroke="#e0a060" stroke-width="0.80" fill="none" opacity="0.90"/>
<path d="M285.2,314.0 L271.2,314.0 M273.3,313.3 L271.2,314.0 L273.3,314.8" stroke="#e0a060" stroke-width="0.80" fill="none" opacity="0.90"/>
<path d="M301.1,314.2 L287.1,314.2 M289.1,313.5 L287.1,314.2 L289.1,315.0" stroke="#e0a060" stroke-width="0.80" fill="none" opacity="0.90"/>
<path d="M286.8,323.9 L272.8,323.9 M274.9,323.1 L272.8,323.9 L274.9,324.6" stroke="#e0a060" stroke-width="0.80" fill="none" opacity="0.90"/>
<path d="M301.2,324.0 L287.2,324.0 M289.3,323.2 L287.2,324.0 L289.3,324.7" stroke="#e0a060" stroke-width="0.80" fill="none" opacity="0.90"/>
<path d="M87.5,246.0 L87.5,232.0 M88.2,233.9 L87.5,232.0 L86.8,233.9" stroke="#e0a070" stroke-width="0.80" fill="none" opacity="0.80"/>
<path d="M265.0,248.0 L265.0,234.0 M265.7,235.9 L265.0,234.0 L264.3,235.9" stroke="#e0a070" stroke-width="0.80" fill="none" opacity="0.80"/>
<path d="M73.0,268.0 L73.0,254.0 M73.7,255.9 L73.0,254.0 L72.3,255.9" stroke="#6a90d8" stroke-width="0.80" fill="none" opacity="0.80"/>
<path d="M279.0,270.0 L279.0,256.0 M279.7,257.9 L279.0,256.0 L278.3,257.9" stroke="#6a90d8" stroke-width="0.80" fill="none" opacity="0.80"/>
<path d="M71.0,330.0 L78.6,318.2 M78.1,320.2 L78.6,318.2 L77.0,319.4" stroke="#6a90d8" stroke-width="0.80" fill="none" opacity="0.80"/>
<path d="M72.0,315.0 L76.3,303.8 M76.3,305.8 L76.3,303.8 L75.0,305.3" stroke="#6a90d8" stroke-width="0.80" fill="none" opacity="0.80"/>
<path d="M88.0,172.0 L88.0,156.0 M88.8,158.1 L88.0,156.0 L87.2,158.1" stroke="#e08070" stroke-width="0.80" fill="none" opacity="0.90"/>
<path d="M264.0,177.0 L264.0,163.0 M264.8,165.1 L264.0,163.0 L263.2,165.1" stroke="#e08070" stroke-width="0.80" fill="none" opacity="0.90"/>
<path d="M85.50,138.00 L86.60,134.62 L87.71,131.27 L88.82,127.95 L89.94,124.67 L91.06,121.43 L92.19,118.22 L93.33,115.05 L94.47,111.91 L95.62,108.81 L96.77,105.74 L97.93,102.71 L99.09,99.72 L100.27,96.76 L101.45,93.85 L102.63,90.97 L103.83,88.12 L105.03,85.32 L106.24,82.56 L107.45,79.83 L108.68,77.14 L109.91,74.50 L111.15,71.89 L112.40,69.33 L113.66,66.81 L114.93,64.32 L116.21,61.88 L117.50,59.49 L118.80,57.13 L120.11,54.82 L121.43,52.56 L122.77,50.34 L124.12,48.16 L125.48,46.03 L126.85,43.95 L128.24,41.92 L129.64,39.93 L131.07,37.99 L132.50,36.11 L133.96,34.27 L135.43,32.48 L136.93,30.75 L138.44,29.07 L139.98,27.45 L141.55,25.88 L143.14,24.37 L144.76,22.92 L146.41,21.54 L148.10,20.21 L149.82,18.95 L151.59,17.75 L153.41,16.63 L155.29,15.57 L157.23,14.60 L159.25,13.70 L161.36,12.89 L163.59,12.17 L165.98,11.56 L168.60,11.05 L171.63,10.68 L176.25,10.50 L180.87,10.68 L183.90,11.05 L186.52,11.56 L188.91,12.17 L191.14,12.89 L193.25,13.70 L195.27,14.60 L197.21,15.57 L199.09,16.63 L200.91,17.75 L202.68,18.95 L204.40,20.21 L206.09,21.54 L207.74,22.92 L209.36,24.37 L210.95,25.88 L212.52,27.45 L214.06,29.07 L215.57,30.75 L217.07,32.48 L218.54,34.27 L220.00,36.11 L221.43,37.99 L222.86,39.93 L224.26,41.92 L225.65,43.95 L227.02,46.03 L228.38,48.16 L229.73,50.34 L231.07,52.56 L232.39,54.82 L233.70,57.13 L235.00,59.49 L236.29,61.88 L237.57,64.32 L238.84,66.81 L240.10,69.33 L241.35,71.89 L242.59,74.50 L243.82,77.14 L245.05,79.83 L246.26,82.56 L247.47,85.32 L248.67,88.12 L249.87,90.97 L251.05,93.85 L252.23,96.76 L253.41,99.72 L254.57,102.71 L255.73,105.74 L256.88,108.81 L258.03,111.91 L259.17,115.05 L260.31,118.22 L261.44,121.43 L262.56,124.67 L263.68,127.95 L264.79,131.27 L265.90,134.62 L267.00,138.00 L267,209.4 L85.5,209.4 Z" fill="none" stroke="#6262e6" stroke-width="0.95"/>
<rect x="100.5" y="209.4" width="151.2" height="50.9" fill="none" stroke="#6262e6" stroke-width="0.95"/>
<polyline points="85.5,213.0 85.5,290.5 77.5,290.5 77.5,288.4 69.2,288.4 69.2,336.3 77.5,336.3 77.5,297.7 89.4,297.7 89.4,213.0" fill="none" stroke="#6262e6" stroke-width="0.95"/>
<rect x="86.3" y="210.8" width="4.3" height="2.7" fill="none" stroke="#5a5ae6" stroke-width="0.8"/>
<rect x="69.2" y="228.9" width="8.3" height="49.7" fill="none" stroke="#6262e6" stroke-width="0.95"/>
<polyline points="267.3,213.0 267.3,290.5 275.3,290.5 275.3,288.4 283.6,288.4 283.6,336.3 275.3,336.3 275.3,297.7 263.4,297.7 263.4,213.0" fill="none" stroke="#6262e6" stroke-width="0.95"/>
<rect x="262.2" y="210.8" width="4.3" height="2.7" fill="none" stroke="#5a5ae6" stroke-width="0.8"/>
<rect x="275.3" y="228.9" width="8.3" height="49.7" fill="none" stroke="#6262e6" stroke-width="0.95"/>
<line x1="283.2" y1="298.7" x2="308" y2="298.7" fill="none" stroke="#6262e6" stroke-width="0.95"/>
<line x1="283.2" y1="329.5" x2="308" y2="329.5" fill="none" stroke="#6262e6" stroke-width="0.95"/>
<text x="285" y="293" class="zh" font-size="13" fill="#303030" stroke="#303030" stroke-width="0.3">空气流</text>
<line x1="30.6" y1="297.6" x2="30.6" y2="277.6" stroke="#2424c4" stroke-width="1.3"/>
<path d="M30.6,273.6 l-2.6,6 h5.2z" fill="#1010c0"/>
<line x1="30.6" y1="297.6" x2="48.6" y2="297.6" stroke="#d41818" stroke-width="1.3"/>
<path d="M52.6,297.6 l-6,-2.6 v5.2z" fill="#d01010"/>
<circle cx="30.6" cy="297.6" r="1.8" fill="#10a010"/>
<circle cx="42.1" cy="284.6" r="2.1" fill="#20c4d4"/>
<text x="30.9" y="266.6" class="ax" fill="#8888e0">Z</text>
<text x="57.1" y="297.1" class="ax" fill="#e88888">X</text>
<text x="31.6" y="295.6" class="ax" fill="#90d090" font-size="6">Y</text>
</g>
<path d="M425.50,170.00 L425.91,165.91 L426.51,161.88 L427.21,157.89 L427.97,153.96 L428.79,150.08 L429.65,146.25 L430.55,142.47 L431.49,138.75 L432.45,135.07 L433.45,131.45 L434.47,127.87 L435.51,124.35 L436.58,120.88 L437.66,117.46 L438.76,114.10 L439.89,110.78 L441.02,107.52 L442.18,104.30 L443.34,101.14 L444.53,98.03 L445.72,94.97 L446.93,91.97 L448.15,89.01 L449.39,86.10 L450.63,83.25 L451.88,80.45 L453.15,77.70 L454.43,75.00 L455.71,72.35 L457.01,69.76 L458.31,67.21 L459.62,64.72 L460.94,62.28 L462.27,59.89 L463.61,57.55 L464.96,55.26 L466.31,53.03 L467.67,50.84 L469.04,48.71 L470.41,46.62 L471.79,44.59 L473.18,42.62 L474.58,40.69 L475.98,38.81 L477.39,36.99 L478.80,35.21 L480.22,33.49 L481.65,31.82 L483.08,30.20 L484.52,28.63 L485.96,27.12 L487.41,25.65 L488.87,24.24 L490.33,22.88 L491.80,21.56 L493.27,20.30 L494.75,19.10 L496.24,17.94 L497.73,16.84 L499.22,15.78 L500.72,14.78 L502.23,13.83 L503.74,12.93 L505.26,12.08 L506.79,11.28 L508.32,10.54 L509.86,9.84 L511.41,9.20 L512.96,8.61 L514.52,8.07 L516.09,7.58 L517.67,7.15 L519.26,6.76 L520.86,6.43 L522.48,6.14 L524.11,5.91 L525.76,5.73 L527.44,5.60 L529.16,5.53 L531.00,5.50 L532.84,5.53 L534.56,5.60 L536.24,5.73 L537.89,5.91 L539.52,6.14 L541.14,6.43 L542.74,6.76 L544.33,7.15 L545.91,7.58 L547.48,8.07 L549.04,8.61 L550.59,9.20 L552.14,9.84 L553.68,10.54 L555.21,11.28 L556.74,12.08 L558.26,12.93 L559.77,13.83 L561.28,14.78 L562.78,15.78 L564.27,16.84 L565.76,17.94 L567.25,19.10 L568.73,20.30 L570.20,21.56 L571.67,22.88 L573.13,24.24 L574.59,25.65 L576.04,27.12 L577.48,28.63 L578.92,30.20 L580.35,31.82 L581.78,33.49 L583.20,35.21 L584.61,36.99 L586.02,38.81 L587.42,40.69 L588.82,42.62 L590.21,44.59 L591.59,46.62 L592.96,48.71 L594.33,50.84 L595.69,53.03 L597.04,55.26 L598.39,57.55 L599.73,59.89 L601.06,62.28 L602.38,64.72 L603.69,67.21 L604.99,69.76 L606.29,72.35 L607.57,75.00 L608.85,77.70 L610.12,80.45 L611.37,83.25 L612.61,86.10 L613.85,89.01 L615.07,91.97 L616.28,94.97 L617.47,98.03 L618.66,101.14 L619.82,104.30 L620.98,107.52 L622.11,110.78 L623.24,114.10 L624.34,117.46 L625.42,120.88 L626.49,124.35 L627.53,127.87 L628.55,131.45 L629.55,135.07 L630.51,138.75 L631.45,142.47 L632.35,146.25 L633.21,150.08 L634.03,153.96 L634.79,157.89 L635.49,161.88 L636.09,165.91 L636.50,170.00 L636.50,250.00 L425.50,250.00 Z" fill="url(#eggG)"/>
<path d="M425.50,170.00 L425.91,165.91 L426.51,161.88 L427.21,157.89 L427.97,153.96 L428.79,150.08 L429.65,146.25 L430.55,142.47 L431.49,138.75 L432.45,135.07 L433.45,131.45 L434.47,127.87 L435.51,124.35 L436.58,120.88 L437.66,117.46 L438.76,114.10 L439.89,110.78 L441.02,107.52 L442.18,104.30 L443.34,101.14 L444.53,98.03 L445.72,94.97 L446.93,91.97 L448.15,89.01 L449.39,86.10 L450.63,83.25 L451.88,80.45 L453.15,77.70 L454.43,75.00 L455.71,72.35 L457.01,69.76 L458.31,67.21 L459.62,64.72 L460.94,62.28 L462.27,59.89 L463.61,57.55 L464.96,55.26 L466.31,53.03 L467.67,50.84 L469.04,48.71 L470.41,46.62 L471.79,44.59 L473.18,42.62 L474.58,40.69 L475.98,38.81 L477.39,36.99 L478.80,35.21 L480.22,33.49 L481.65,31.82 L483.08,30.20 L484.52,28.63 L485.96,27.12 L487.41,25.65 L488.87,24.24 L490.33,22.88 L491.80,21.56 L493.27,20.30 L494.75,19.10 L496.24,17.94 L497.73,16.84 L499.22,15.78 L500.72,14.78 L502.23,13.83 L503.74,12.93 L505.26,12.08 L506.79,11.28 L508.32,10.54 L509.86,9.84 L511.41,9.20 L512.96,8.61 L514.52,8.07 L516.09,7.58 L517.67,7.15 L519.26,6.76 L520.86,6.43 L522.48,6.14 L524.11,5.91 L525.76,5.73 L527.44,5.60 L529.16,5.53 L531.00,5.50 L532.84,5.53 L534.56,5.60 L536.24,5.73 L537.89,5.91 L539.52,6.14 L541.14,6.43 L542.74,6.76 L544.33,7.15 L545.91,7.58 L547.48,8.07 L549.04,8.61 L550.59,9.20 L552.14,9.84 L553.68,10.54 L555.21,11.28 L556.74,12.08 L558.26,12.93 L559.77,13.83 L561.28,14.78 L562.78,15.78 L564.27,16.84 L565.76,17.94 L567.25,19.10 L568.73,20.30 L570.20,21.56 L571.67,22.88 L573.13,24.24 L574.59,25.65 L576.04,27.12 L577.48,28.63 L578.92,30.20 L580.35,31.82 L581.78,33.49 L583.20,35.21 L584.61,36.99 L586.02,38.81 L587.42,40.69 L588.82,42.62 L590.21,44.59 L591.59,46.62 L592.96,48.71 L594.33,50.84 L595.69,53.03 L597.04,55.26 L598.39,57.55 L599.73,59.89 L601.06,62.28 L602.38,64.72 L603.69,67.21 L604.99,69.76 L606.29,72.35 L607.57,75.00 L608.85,77.70 L610.12,80.45 L611.37,83.25 L612.61,86.10 L613.85,89.01 L615.07,91.97 L616.28,94.97 L617.47,98.03 L618.66,101.14 L619.82,104.30 L620.98,107.52 L622.11,110.78 L623.24,114.10 L624.34,117.46 L625.42,120.88 L626.49,124.35 L627.53,127.87 L628.55,131.45 L629.55,135.07 L630.51,138.75 L631.45,142.47 L632.35,146.25 L633.21,150.08 L634.03,153.96 L634.79,157.89 L635.49,161.88 L636.09,165.91 L636.50,170.00 L636.50,250.00 L425.50,250.00 Z" fill="url(#eggTop)"/>
<rect x="443" y="255" width="175" height="52" fill="url(#cylG)"/>
<ellipse cx="530.5" cy="304.8" rx="87.5" ry="27.5" fill="url(#baseG)"/>
<path d="M633.1,250.7L634.2,255.1L631.8,253.6ZM631.6,253.8L632.1,258.6L629.5,256.2ZM629.3,256.4L629.6,262.3L626.8,258.4ZM626.5,258.6L626.2,263.3L623.8,260.3ZM623.5,260.5L623.0,265.2L620.6,262.0ZM620.4,262.1L619.8,267.0L617.5,263.4ZM617.2,263.5L616.3,267.3L614.2,264.7ZM614.0,264.8L613.1,269.5L611.0,265.9ZM610.5,266.0L609.6,271.0L607.4,267.0ZM607.1,267.1L606.2,272.5L604.0,268.0ZM603.8,268.0L602.6,271.5L600.7,268.9ZM600.3,268.9L599.1,272.9L597.2,269.7ZM596.7,269.8L595.4,273.2L593.5,270.5ZM593.3,270.5L592.2,275.9L590.1,271.2ZM589.8,271.2L588.6,276.2L586.6,271.8ZM586.1,271.9L584.8,275.0L583.0,272.4ZM582.4,272.5L581.2,278.3L579.3,273.0ZM579.0,273.0L577.8,278.7L575.8,273.4ZM575.5,273.5L574.2,278.3L572.4,273.9ZM572.0,273.9L570.6,278.6L568.8,274.3ZM568.4,274.3L566.9,277.7L565.2,274.7ZM564.7,274.7L563.2,277.7L561.5,275.0ZM561.0,275.0L559.6,279.4L557.8,275.3ZM557.3,275.3L555.8,278.4L554.1,275.5ZM553.5,275.6L552.0,279.0L550.3,275.8ZM549.7,275.8L548.1,279.4L546.5,276.0ZM546.2,276.0L544.7,278.9L543.0,276.1ZM542.8,276.1L541.3,280.2L539.6,276.2ZM539.4,276.2L537.8,280.3L536.2,276.3ZM535.9,276.3L534.3,281.4L532.7,276.3ZM532.5,276.3L530.9,280.6L529.3,276.3ZM529.0,276.3L527.4,280.9L525.8,276.3ZM525.6,276.3L523.9,280.5L522.4,276.2ZM522.1,276.2L520.5,280.9L518.9,276.1ZM518.7,276.1L517.0,280.2L515.5,276.0ZM515.2,276.0L513.6,279.5L512.0,275.9ZM511.8,275.9L510.1,281.4L508.6,275.7ZM508.0,275.7L506.3,281.2L504.8,275.5ZM504.3,275.4L502.5,280.5L501.1,275.2ZM500.5,275.2L498.7,279.8L497.3,274.9ZM496.8,274.8L495.1,278.4L493.7,274.5ZM493.2,274.5L491.4,277.8L490.0,274.2ZM489.6,274.1L487.8,277.5L486.4,273.7ZM486.1,273.7L484.3,276.5L482.9,273.3ZM482.6,273.2L480.7,277.9L479.5,272.8ZM479.2,272.7L477.4,276.4L476.1,272.3ZM475.6,272.2L473.6,277.0L472.4,271.6ZM472.0,271.5L470.1,275.1L468.8,271.0ZM468.5,270.9L466.4,276.0L465.4,270.2ZM465.1,270.2L463.0,275.0L462.0,269.5ZM461.5,269.4L459.7,271.8L458.4,268.6ZM458.1,268.5L456.2,271.5L455.0,267.7ZM454.6,267.6L452.3,272.4L451.5,266.7ZM451.2,266.6L449.1,270.1L448.1,265.6ZM447.8,265.4L445.4,270.3L444.8,264.3ZM444.3,264.2L442.2,267.3L441.4,262.9ZM441.0,262.7L439.0,264.9L438.1,261.4ZM437.8,261.2L435.4,264.7L435.1,259.6ZM434.7,259.4L432.1,263.1L432.1,257.6ZM431.9,257.4L429.6,259.4L429.6,255.2ZM429.4,255.0L427.3,256.2L427.6,252.4ZM427.4,252.2L425.4,253.1L426.6,249.1ZM426.6,248.8L424.5,249.6L427.3,245.6ZM427.5,245.3L426.5,245.4L429.3,242.7ZM429.4,242.5L429.6,242.0L431.8,240.3ZM432.0,240.1L432.3,239.8L434.6,238.3ZM434.9,238.1L435.5,237.7L437.6,236.5ZM437.9,236.4L438.8,236.0L440.8,234.9ZM441.2,234.8L441.7,234.7L444.1,233.5ZM444.5,233.4L445.5,233.2L447.5,232.3ZM447.9,232.1L448.8,232.1L450.9,231.1ZM451.2,231.0L452.2,231.0L454.3,230.1ZM454.7,230.0L455.9,229.9L457.8,229.1ZM458.1,229.1L459.1,229.1L461.2,228.3ZM461.7,228.2L462.9,228.1L464.8,227.5ZM465.0,227.4L466.1,227.5L468.1,226.8ZM468.5,226.7L469.8,226.7L471.6,226.1ZM472.0,226.0L473.3,226.1L475.2,225.5ZM475.7,225.4L477.0,225.4L478.9,224.9ZM479.1,224.9L480.4,224.9L482.2,224.4ZM482.5,224.4L483.8,224.6L485.7,224.0ZM486.0,223.9L487.4,224.1L489.2,223.5ZM489.6,223.5L491.0,223.6L492.8,223.1ZM493.2,223.1L494.6,223.4L496.4,222.8ZM496.9,222.7L498.4,222.9L500.1,222.5ZM500.7,222.4L502.1,222.6L503.8,222.2ZM504.4,222.2L505.9,222.5L507.6,222.0ZM508.2,221.9L509.7,222.2L511.4,221.7ZM511.6,221.7L513.2,221.9L514.8,221.6ZM515.0,221.6L516.5,222.0L518.2,221.5ZM518.5,221.5L520.0,221.7L521.7,221.4ZM521.9,221.4L523.5,221.6L525.1,221.3ZM525.4,221.3L527.0,221.7L528.6,221.3ZM528.8,221.3L530.4,221.6L532.0,221.3ZM532.3,221.3L533.9,221.6L535.5,221.3ZM535.7,221.3L537.4,221.6L538.9,221.4ZM539.2,221.4L540.8,221.7L542.4,221.5ZM542.6,221.5L544.3,221.9L545.8,221.6ZM546.0,221.6L547.7,222.0L549.2,221.8ZM549.4,221.8L551.1,222.2L552.6,222.0ZM553.2,222.0L554.9,222.4L556.4,222.2ZM557.0,222.3L558.7,222.7L560.2,222.5ZM560.7,222.5L562.5,223.1L563.9,222.8ZM564.4,222.9L566.2,223.4L567.6,223.2ZM568.0,223.2L569.8,223.8L571.2,223.6ZM571.6,223.6L573.5,224.2L574.7,224.0ZM575.1,224.1L576.9,224.5L578.2,224.5ZM578.5,224.5L580.3,225.0L581.7,225.0ZM581.9,225.0L583.9,225.7L585.0,225.5ZM585.5,225.6L587.5,226.3L588.7,226.2ZM589.1,226.2L591.0,226.9L592.2,226.9ZM592.5,226.9L594.4,227.5L595.7,227.6ZM595.9,227.6L597.9,228.4L599.0,228.3ZM599.4,228.4L601.6,229.3L602.5,229.2ZM602.8,229.3L604.7,230.0L605.9,230.2ZM606.3,230.3L608.6,231.3L609.4,231.2ZM609.6,231.3L611.9,232.3L612.7,232.3ZM613.0,232.4L615.2,233.5L616.0,233.6ZM616.4,233.7L618.6,234.8L619.3,235.0ZM619.6,235.1L621.7,236.2L622.5,236.6ZM622.7,236.7L624.8,237.9L625.5,238.3ZM625.7,238.5L628.5,240.3L628.3,240.4ZM628.5,240.5L630.8,242.4L630.8,242.8ZM631.0,243.0L633.7,245.7L632.7,245.7ZM632.8,246.0L634.7,249.2L633.4,249.1Z" fill="#a8a8a8" opacity="0.75" filter="url(#bl)"/>
<ellipse cx="530.0" cy="248.5" rx="105.0" ry="29.0" fill="url(#ringG)"/>
<g transform="translate(530.0,248.5) scale(1,0.2762)"><circle r="100.0" fill="none" stroke="#80889a" stroke-width="4.5" stroke-dasharray="1.2 1.3 2.2 1.1 0.8 1.6" opacity="0.7" filter="url(#bl)"/></g>
<ellipse cx="530.5" cy="253.7" rx="87.5" ry="25.2" fill="#b87880"/>
<g transform="translate(530.5,254.7) scale(1,0.2800)"><circle r="85.5" fill="none" stroke="#ffffff" stroke-width="3" stroke-dasharray="4 5" opacity="0.35"/></g>
<ellipse cx="530.5" cy="250.9" rx="87.0" ry="23.3" fill="url(#disc4)"/>
<clipPath id="c31"><ellipse cx="531.8" cy="61.5" rx="68.6" ry="20.3"/></clipPath>
<ellipse cx="531.8" cy="61.5" rx="68.6" ry="20.3" fill="#dc5e4a"/>
<g clip-path="url(#c31)">
<path d="M464.3,58.2 C465.3,60.3 465.1,66.0 467.8,66.4 C470.5,66.8 475.2,62.9 480.6,60.6 C486.0,58.3 498.8,54.0 500.3,52.4 C501.9,50.8 494.3,51.3 489.9,51.3 C485.4,51.3 478.2,51.9 473.6,52.4 C469.0,52.9 463.6,53.0 462.0,54.0 C460.4,55.0 463.3,56.1 464.3,58.2Z" fill="#d08540" />
<path d="M572.4,72.2 C572.4,73.0 580.8,74.7 585.1,74.5 C589.4,74.3 598.0,71.8 598.0,71.0 C598.0,70.2 589.4,69.6 585.1,69.8 C580.8,70.0 572.4,71.4 572.4,72.2Z" fill="#d08540" />
<rect x="460" y="38" width="145" height="50" fill="url(#shade)"/>
</g>
<ellipse cx="531.8" cy="61.5" rx="68.6" ry="20.3" fill="none" stroke="#5050d8" stroke-width="0.9"/>
<clipPath id="c32"><ellipse cx="531.2" cy="123" rx="95" ry="28.1"/></clipPath>
<ellipse cx="531.2" cy="123" rx="95" ry="28.1" fill="#e8bc50"/>
<g clip-path="url(#c32)">
<ellipse cx="529.3" cy="122.8" rx="93.3" ry="27.6" fill="#dc8e3e"/>
<path d="M502.4,95.7 C494.8,96.8 504.5,100.7 504.0,102.6 C503.5,104.5 501.7,105.7 499.3,107.3 C496.9,108.9 490.3,110.7 489.8,112.0 C489.3,113.3 497.2,113.6 496.1,115.2 C495.1,116.8 486.9,119.1 483.5,121.5 C480.1,123.9 476.2,126.8 475.7,129.4 C475.2,132.0 475.9,134.9 480.4,137.2 C484.8,139.4 492.4,141.7 502.4,142.9 C512.4,144.1 526.0,144.3 540.2,144.2 C554.4,144.0 575.9,143.4 587.4,142.0 C598.9,140.6 605.0,138.6 609.5,135.7 C614.0,132.8 614.7,127.8 614.2,124.6 C613.7,121.4 609.7,118.9 606.3,116.8 C602.9,114.7 597.4,113.8 593.7,112.0 C590.0,110.2 589.5,107.5 584.3,105.7 C579.0,103.9 568.0,102.7 562.2,101.0 C556.4,99.3 559.6,96.6 549.6,95.7 C539.6,94.8 510.0,94.6 502.4,95.7Z" fill="#dc6048" />
<rect x="430" y="90" width="205" height="70" fill="url(#shade)"/>
</g>
<ellipse cx="531.2" cy="123" rx="95" ry="28.1" fill="none" stroke="#5050d8" stroke-width="0.9"/>
<clipPath id="c33"><ellipse cx="530.5" cy="192.6" rx="105.5" ry="31"/></clipPath>
<ellipse cx="530.5" cy="192.6" rx="105.5" ry="31" fill="#c0dc30"/>
<g clip-path="url(#c33)">
<path d="M636.33,194.37L634.11,199.19L628.90,198.20L630.50,194.85ZM631.74,201.85L627.54,205.16L622.84,203.88L625.83,201.59ZM624.50,207.02L619.73,209.44L615.50,207.94L618.89,206.26ZM616.45,210.86L611.45,212.74L607.69,211.05L611.25,209.74ZM608.06,213.87L602.93,215.38L599.65,213.53L603.29,212.48ZM599.48,216.29L594.28,217.52L591.46,215.55L595.16,214.69ZM590.79,218.26L585.53,219.27L583.19,217.19L586.92,216.49ZM582.02,219.87L576.73,220.68L574.87,218.52L578.62,217.96ZM573.19,221.16L567.88,221.80L566.50,219.57L570.27,219.13ZM564.33,222.17L559.00,222.65L558.10,220.38L561.88,220.05ZM555.45,222.92L550.11,223.26L549.69,220.97L553.48,220.73ZM546.55,223.44L541.20,223.64L541.26,221.33L545.05,221.19ZM537.63,223.73L532.28,223.80L532.82,221.49L536.62,221.45ZM528.72,223.80L523.37,223.73L524.38,221.45L528.18,221.49ZM519.80,223.64L514.45,223.44L515.95,221.19L519.74,221.33ZM510.89,223.26L505.55,222.92L507.52,220.73L511.31,220.97ZM502.00,222.65L496.67,222.17L499.12,220.05L502.90,220.38ZM493.12,221.80L487.81,221.16L490.73,219.13L494.50,219.57ZM484.27,220.68L478.98,219.87L482.38,217.96L486.13,218.52ZM475.47,219.27L470.21,218.26L474.08,216.49L477.81,217.19ZM466.72,217.52L461.52,216.29L465.84,214.69L469.54,215.55ZM458.07,215.38L452.94,213.87L457.71,212.48L461.35,213.53ZM449.55,212.74L444.55,210.86L449.75,209.74L453.31,211.05ZM441.27,209.44L436.50,207.02L442.11,206.26L445.50,207.94ZM433.46,205.16L429.26,201.85L435.17,201.59L438.16,203.88ZM426.89,199.19L424.67,194.37L430.50,194.85L432.10,198.20ZM424.67,190.83L426.89,186.01L432.10,187.00L430.50,190.35ZM429.26,183.35L433.46,180.04L438.16,181.32L435.17,183.61ZM436.50,178.18L441.27,175.76L445.50,177.26L442.11,178.94ZM444.55,174.34L449.55,172.46L453.31,174.15L449.75,175.46ZM452.94,171.33L458.07,169.82L461.35,171.67L457.71,172.72ZM461.52,168.91L466.72,167.68L469.54,169.65L465.84,170.51ZM470.21,166.94L475.47,165.93L477.81,168.01L474.08,168.71ZM478.98,165.33L484.27,164.52L486.13,166.68L482.38,167.24ZM487.81,164.04L493.12,163.40L494.50,165.63L490.73,166.07ZM496.67,163.03L502.00,162.55L502.90,164.82L499.12,165.15ZM505.55,162.28L510.89,161.94L511.31,164.23L507.52,164.47ZM514.45,161.76L519.80,161.56L519.74,163.87L515.95,164.01ZM523.37,161.47L528.72,161.40L528.18,163.71L524.38,163.75ZM532.28,161.40L537.63,161.47L536.62,163.75L532.82,163.71ZM541.20,161.56L546.55,161.76L545.05,164.01L541.26,163.87ZM550.11,161.94L555.45,162.28L553.48,164.47L549.69,164.23ZM559.00,162.55L564.33,163.03L561.88,165.15L558.10,164.82ZM567.88,163.40L573.19,164.04L570.27,166.07L566.50,165.63ZM576.73,164.52L582.02,165.33L578.62,167.24L574.87,166.68ZM585.53,165.93L590.79,166.94L586.92,168.71L583.19,168.01ZM594.28,167.68L599.48,168.91L595.16,170.51L591.46,169.65ZM602.93,169.82L608.06,171.33L603.29,172.72L599.65,171.67ZM611.45,172.46L616.45,174.34L611.25,175.46L607.69,174.15ZM619.73,175.76L624.50,178.18L618.89,178.94L615.50,177.26ZM627.54,180.04L631.74,183.35L625.83,183.61L622.84,181.32ZM634.11,186.01L636.33,190.83L630.50,190.35L628.90,187.00Z" fill="#48d078" />
<path d="M636.06,195.45L634.73,198.27L633.59,197.80L634.52,195.82ZM630.91,202.60L628.45,204.52L627.52,204.08L629.25,202.72ZM623.52,207.56L620.74,208.97L619.94,208.52L621.90,207.53ZM615.42,211.27L612.50,212.37L611.83,211.91L613.89,211.13ZM607.00,214.20L604.00,215.08L603.46,214.60L605.57,213.98ZM598.40,216.56L595.36,217.28L594.94,216.78L597.08,216.28ZM589.69,218.48L586.63,219.07L586.32,218.56L588.48,218.15ZM580.92,220.05L577.83,220.52L577.64,220.01L579.81,219.67ZM572.09,221.30L568.99,221.67L568.92,221.15L571.10,220.89ZM563.22,222.28L560.12,222.56L560.16,222.04L562.35,221.84ZM554.34,223.00L551.22,223.20L551.39,222.68L553.58,222.54ZM545.43,223.49L542.31,223.61L542.60,223.09L544.80,223.01ZM536.52,223.75L533.40,223.79L533.80,223.28L536.00,223.26ZM527.60,223.79L524.48,223.75L525.00,223.26L527.20,223.28ZM518.69,223.61L515.57,223.49L516.20,223.01L518.40,223.09ZM509.78,223.20L506.66,223.00L507.42,222.54L509.61,222.68ZM500.88,222.56L497.78,222.28L498.65,221.84L500.84,222.04ZM492.01,221.67L488.91,221.30L489.90,220.89L492.08,221.15ZM483.17,220.52L480.08,220.05L481.19,219.67L483.36,220.01ZM474.37,219.07L471.31,218.48L472.52,218.15L474.68,218.56ZM465.64,217.28L462.60,216.56L463.92,216.28L466.06,216.78ZM457.00,215.08L454.00,214.20L455.43,213.98L457.54,214.60ZM448.50,212.37L445.58,211.27L447.11,211.13L449.17,211.91ZM440.26,208.97L437.48,207.56L439.10,207.53L441.06,208.52ZM432.55,204.52L430.09,202.60L431.75,202.72L433.48,204.08ZM426.27,198.27L424.94,195.45L426.48,195.82L427.41,197.80ZM424.94,189.75L426.27,186.93L427.41,187.40L426.48,189.38ZM430.09,182.60L432.55,180.68L433.48,181.12L431.75,182.48ZM437.48,177.64L440.26,176.23L441.06,176.68L439.10,177.67ZM445.58,173.93L448.50,172.83L449.17,173.29L447.11,174.07ZM454.00,171.00L457.00,170.12L457.54,170.60L455.43,171.22ZM462.60,168.64L465.64,167.92L466.06,168.42L463.92,168.92ZM471.31,166.72L474.37,166.13L474.68,166.64L472.52,167.05ZM480.08,165.15L483.17,164.68L483.36,165.19L481.19,165.53ZM488.91,163.90L492.01,163.53L492.08,164.05L489.90,164.31ZM497.78,162.92L500.88,162.64L500.84,163.16L498.65,163.36ZM506.66,162.20L509.78,162.00L509.61,162.52L507.42,162.66ZM515.57,161.71L518.69,161.59L518.40,162.11L516.20,162.19ZM524.48,161.45L527.60,161.41L527.20,161.92L525.00,161.94ZM533.40,161.41L536.52,161.45L536.00,161.94L533.80,161.92ZM542.31,161.59L545.43,161.71L544.80,162.19L542.60,162.11ZM551.22,162.00L554.34,162.20L553.58,162.66L551.39,162.52ZM560.12,162.64L563.22,162.92L562.35,163.36L560.16,163.16ZM568.99,163.53L572.09,163.90L571.10,164.31L568.92,164.05ZM577.83,164.68L580.92,165.15L579.81,165.53L577.64,165.19ZM586.63,166.13L589.69,166.72L588.48,167.05L586.32,166.64ZM595.36,167.92L598.40,168.64L597.08,168.92L594.94,168.42ZM604.00,170.12L607.00,171.00L605.57,171.22L603.46,170.60ZM612.50,172.83L615.42,173.93L613.89,174.07L611.83,173.29ZM620.74,176.23L623.52,177.64L621.90,177.67L619.94,176.68ZM628.45,180.68L630.91,182.60L629.25,182.48L627.52,181.12ZM634.73,186.93L636.06,189.75L634.52,189.38L633.59,187.40Z" fill="#40b8d0" />
<ellipse cx="530.5" cy="192.6" rx="100" ry="29" fill="#d8d42c"/>
<ellipse cx="530.5" cy="192.6" rx="98" ry="28.2" fill="#eab038"/>
<ellipse cx="530.5" cy="192.4" rx="95" ry="27.2" fill="url(#or3)"/>
<path d="M450.4,192.1 C450.7,189.8 450.3,188.4 453.7,187.0 C457.1,185.6 462.2,184.6 470.6,183.7 C479.0,182.8 495.3,182.3 504.3,181.3 C513.3,180.3 517.9,178.8 524.6,177.9 C531.4,177.0 536.9,176.1 544.8,175.9 C552.7,175.7 563.4,175.9 571.8,176.9 C580.2,177.9 589.8,180.0 595.4,182.0 C601.0,184.0 603.4,186.7 605.6,188.7 C607.9,190.7 607.5,192.4 608.9,193.8 C610.3,195.2 614.0,195.8 614.0,197.2 C614.0,198.6 611.4,200.2 608.9,202.2 C606.4,204.2 605.0,207.0 598.8,209.0 C592.6,211.0 581.9,213.0 571.8,214.0 C561.7,215.0 550.5,215.3 538.1,215.1 C525.7,214.9 510.0,214.3 497.6,213.0 C485.2,211.7 471.5,209.4 463.9,207.3 C456.3,205.2 454.2,203.0 452.0,200.5 C449.8,198.0 450.1,194.3 450.4,192.1Z" fill="url(#rd3)" />
<rect x="420" y="155" width="225" height="80" fill="url(#shade)" opacity="0.5"/>
</g>
<ellipse cx="530.5" cy="192.6" rx="105.5" ry="31" fill="none" stroke="#3a58e0" stroke-width="0.5"/>
<text x="611.5" y="66.8" class="nb">1</text>
<text x="629.5" y="124.3" class="nb">2</text>
<text x="638.5" y="198.2" class="nb">3</text>
<text x="638.5" y="260.7" class="nb">4</text>
<rect x="361.2" y="24.00" width="14.5" height="16.10" fill="#ff2800"/>
<rect x="361.2" y="39.80" width="14.5" height="16.10" fill="#ff7800"/>
<rect x="361.2" y="55.60" width="14.5" height="16.10" fill="#ffb400"/>
<rect x="361.2" y="71.40" width="14.5" height="16.10" fill="#ffff00"/>
<rect x="361.2" y="87.20" width="14.5" height="16.10" fill="#dcff00"/>
<rect x="361.2" y="103.00" width="14.5" height="16.10" fill="#b0ff00"/>
<rect x="361.2" y="118.80" width="14.5" height="16.10" fill="#78ff00"/>
<rect x="361.2" y="134.60" width="14.5" height="16.10" fill="#00f800"/>
<rect x="361.2" y="150.40" width="14.5" height="16.10" fill="#00ff88"/>
<rect x="361.2" y="166.20" width="14.5" height="16.10" fill="#00ffb8"/>
<rect x="361.2" y="182.00" width="14.5" height="16.10" fill="#00ffe8"/>
<rect x="361.2" y="197.80" width="14.5" height="16.10" fill="#00e0ff"/>
<rect x="361.2" y="213.60" width="14.5" height="16.10" fill="#00a8ff"/>
<rect x="361.2" y="229.40" width="14.5" height="16.10" fill="#0070ff"/>
<rect x="361.2" y="245.20" width="14.5" height="16.10" fill="#0028ff"/>
<line x1="375.7" y1="24.0" x2="378" y2="24.0" stroke="#777" stroke-width="0.8"/>
<text x="383.1" y="32.1" class="lb3" textLength="30.5" lengthAdjust="spacingAndGlyphs">1750</text>
<line x1="375.7" y1="39.8" x2="378" y2="39.8" stroke="#777" stroke-width="0.8"/>
<text x="383.1" y="47.9" class="lb3" textLength="30.5" lengthAdjust="spacingAndGlyphs">1720</text>
<line x1="375.7" y1="55.6" x2="378" y2="55.6" stroke="#777" stroke-width="0.8"/>
<text x="383.1" y="63.7" class="lb3" textLength="30.5" lengthAdjust="spacingAndGlyphs">1690</text>
<line x1="375.7" y1="71.4" x2="378" y2="71.4" stroke="#777" stroke-width="0.8"/>
<text x="383.1" y="79.5" class="lb3" textLength="30.5" lengthAdjust="spacingAndGlyphs">1660</text>
<line x1="375.7" y1="87.2" x2="378" y2="87.2" stroke="#777" stroke-width="0.8"/>
<text x="383.1" y="95.3" class="lb3" textLength="30.5" lengthAdjust="spacingAndGlyphs">1630</text>
<line x1="375.7" y1="103.0" x2="378" y2="103.0" stroke="#777" stroke-width="0.8"/>
<text x="383.1" y="111.1" class="lb3" textLength="30.5" lengthAdjust="spacingAndGlyphs">1600</text>
<line x1="375.7" y1="118.8" x2="378" y2="118.8" stroke="#777" stroke-width="0.8"/>
<text x="383.1" y="126.9" class="lb3" textLength="30.5" lengthAdjust="spacingAndGlyphs">1570</text>
<line x1="375.7" y1="134.6" x2="378" y2="134.6" stroke="#777" stroke-width="0.8"/>
<text x="383.1" y="142.7" class="lb3" textLength="30.5" lengthAdjust="spacingAndGlyphs">1540</text>
<line x1="375.7" y1="150.4" x2="378" y2="150.4" stroke="#777" stroke-width="0.8"/>
<text x="383.1" y="158.5" class="lb3" textLength="30.5" lengthAdjust="spacingAndGlyphs">1510</text>
<line x1="375.7" y1="166.2" x2="378" y2="166.2" stroke="#777" stroke-width="0.8"/>
<text x="383.1" y="174.3" class="lb3" textLength="30.5" lengthAdjust="spacingAndGlyphs">1480</text>
<line x1="375.7" y1="182.0" x2="378" y2="182.0" stroke="#777" stroke-width="0.8"/>
<text x="383.1" y="190.1" class="lb3" textLength="30.5" lengthAdjust="spacingAndGlyphs">1450</text>
<line x1="375.7" y1="197.8" x2="378" y2="197.8" stroke="#777" stroke-width="0.8"/>
<text x="383.1" y="205.9" class="lb3" textLength="30.5" lengthAdjust="spacingAndGlyphs">1420</text>
<line x1="375.7" y1="213.6" x2="378" y2="213.6" stroke="#777" stroke-width="0.8"/>
<text x="383.1" y="221.7" class="lb3" textLength="30.5" lengthAdjust="spacingAndGlyphs">1390</text>
<line x1="375.7" y1="229.4" x2="378" y2="229.4" stroke="#777" stroke-width="0.8"/>
<text x="383.1" y="237.5" class="lb3" textLength="30.5" lengthAdjust="spacingAndGlyphs">1360</text>
<line x1="375.7" y1="245.2" x2="378" y2="245.2" stroke="#777" stroke-width="0.8"/>
<text x="383.1" y="253.3" class="lb3" textLength="30.5" lengthAdjust="spacingAndGlyphs">1330</text>
<line x1="375.7" y1="261.0" x2="378" y2="261.0" stroke="#777" stroke-width="0.8"/>
<text x="383.1" y="269.1" class="lb3" textLength="30.5" lengthAdjust="spacingAndGlyphs">1300</text>
<text x="362.2" y="286" class="lb3" textLength="17" lengthAdjust="spacingAndGlyphs">[K]</text>
<line x1="410.5" y1="323.7" x2="410.5" y2="303.7" stroke="#2424c4" stroke-width="1.3"/>
<path d="M410.5,297.7 l-2.6,6.5 h5.2z" fill="#1818d0"/>
<line x1="410.5" y1="323.7" x2="393.5" y2="323.7" stroke="#108010" stroke-width="1.3"/>
<path d="M387.5,323.7 l6.5,-2.6 v5.2z" fill="#108010"/>
<ellipse cx="411.0" cy="319.9" rx="2.1" ry="2.4" fill="#e81010"/>
<circle cx="399.4" cy="306.9" r="2.1" fill="#20d0e0"/>
<text x="411.9" y="291.3" class="ax" fill="#8888f0">Z</text>
<text x="412.0" y="315.7" class="ax" fill="#f09090">X</text>
<text x="383.8" y="323.0" class="ax" fill="#90d890">Y</text>
<path d="M239.70,515.00 L240.67,511.67 L241.71,508.37 L242.78,505.12 L243.87,501.92 L244.97,498.75 L246.08,495.62 L247.21,492.54 L248.34,489.50 L249.49,486.50 L250.64,483.55 L251.80,480.63 L252.97,477.76 L254.14,474.93 L255.33,472.14 L256.51,469.39 L257.71,466.69 L258.91,464.02 L260.12,461.40 L261.33,458.82 L262.55,456.29 L263.78,453.79 L265.01,451.34 L266.25,448.93 L267.50,446.56 L268.75,444.23 L270.00,441.94 L271.27,439.70 L272.54,437.50 L273.81,435.34 L275.09,433.22 L276.38,431.15 L277.68,429.11 L278.98,427.12 L280.29,425.17 L281.60,423.26 L282.92,421.40 L284.25,419.57 L285.59,417.79 L286.93,416.05 L288.28,414.35 L289.64,412.69 L291.00,411.08 L292.38,409.51 L293.76,407.98 L295.15,406.49 L296.55,405.04 L297.96,403.63 L299.37,402.27 L300.80,400.95 L302.24,399.67 L303.68,398.43 L305.14,397.24 L306.61,396.09 L308.09,394.97 L309.58,393.91 L311.08,392.88 L312.60,391.89 L314.13,390.95 L315.68,390.05 L317.24,389.19 L318.81,388.37 L320.41,387.59 L322.02,386.86 L323.65,386.17 L325.30,385.52 L326.97,384.91 L328.67,384.34 L330.40,383.82 L332.15,383.34 L333.94,382.90 L335.76,382.50 L337.63,382.14 L339.54,381.83 L341.51,381.55 L343.54,381.32 L345.66,381.14 L347.89,380.99 L350.27,380.88 L352.92,380.82 L356.50,380.80 L360.08,380.82 L362.73,380.88 L365.11,380.99 L367.34,381.14 L369.46,381.32 L371.49,381.55 L373.46,381.83 L375.37,382.14 L377.24,382.50 L379.06,382.90 L380.85,383.34 L382.60,383.82 L384.33,384.34 L386.03,384.91 L387.70,385.52 L389.35,386.17 L390.98,386.86 L392.59,387.59 L394.19,388.37 L395.76,389.19 L397.32,390.05 L398.87,390.95 L400.40,391.89 L401.92,392.88 L403.42,393.91 L404.91,394.97 L406.39,396.09 L407.86,397.24 L409.32,398.43 L410.76,399.67 L412.20,400.95 L413.63,402.27 L415.04,403.63 L416.45,405.04 L417.85,406.49 L419.24,407.98 L420.62,409.51 L422.00,411.08 L423.36,412.69 L424.72,414.35 L426.07,416.05 L427.41,417.79 L428.75,419.57 L430.08,421.40 L431.40,423.26 L432.71,425.17 L434.02,427.12 L435.32,429.11 L436.62,431.15 L437.91,433.22 L439.19,435.34 L440.46,437.50 L441.73,439.70 L443.00,441.94 L444.25,444.23 L445.50,446.56 L446.75,448.93 L447.99,451.34 L449.22,453.79 L450.45,456.29 L451.67,458.82 L452.88,461.40 L454.09,464.02 L455.29,466.69 L456.49,469.39 L457.67,472.14 L458.86,474.93 L460.03,477.76 L461.20,480.63 L462.36,483.55 L463.51,486.50 L464.66,489.50 L465.79,492.54 L466.92,495.62 L468.03,498.75 L469.13,501.92 L470.22,505.12 L471.29,508.37 L472.33,511.67 L473.30,515.00 L473.30,590.00 L239.70,590.00 Z" fill="url(#eggG)"/>
<path d="M239.70,515.00 L240.67,511.67 L241.71,508.37 L242.78,505.12 L243.87,501.92 L244.97,498.75 L246.08,495.62 L247.21,492.54 L248.34,489.50 L249.49,486.50 L250.64,483.55 L251.80,480.63 L252.97,477.76 L254.14,474.93 L255.33,472.14 L256.51,469.39 L257.71,466.69 L258.91,464.02 L260.12,461.40 L261.33,458.82 L262.55,456.29 L263.78,453.79 L265.01,451.34 L266.25,448.93 L267.50,446.56 L268.75,444.23 L270.00,441.94 L271.27,439.70 L272.54,437.50 L273.81,435.34 L275.09,433.22 L276.38,431.15 L277.68,429.11 L278.98,427.12 L280.29,425.17 L281.60,423.26 L282.92,421.40 L284.25,419.57 L285.59,417.79 L286.93,416.05 L288.28,414.35 L289.64,412.69 L291.00,411.08 L292.38,409.51 L293.76,407.98 L295.15,406.49 L296.55,405.04 L297.96,403.63 L299.37,402.27 L300.80,400.95 L302.24,399.67 L303.68,398.43 L305.14,397.24 L306.61,396.09 L308.09,394.97 L309.58,393.91 L311.08,392.88 L312.60,391.89 L314.13,390.95 L315.68,390.05 L317.24,389.19 L318.81,388.37 L320.41,387.59 L322.02,386.86 L323.65,386.17 L325.30,385.52 L326.97,384.91 L328.67,384.34 L330.40,383.82 L332.15,383.34 L333.94,382.90 L335.76,382.50 L337.63,382.14 L339.54,381.83 L341.51,381.55 L343.54,381.32 L345.66,381.14 L347.89,380.99 L350.27,380.88 L352.92,380.82 L356.50,380.80 L360.08,380.82 L362.73,380.88 L365.11,380.99 L367.34,381.14 L369.46,381.32 L371.49,381.55 L373.46,381.83 L375.37,382.14 L377.24,382.50 L379.06,382.90 L380.85,383.34 L382.60,383.82 L384.33,384.34 L386.03,384.91 L387.70,385.52 L389.35,386.17 L390.98,386.86 L392.59,387.59 L394.19,388.37 L395.76,389.19 L397.32,390.05 L398.87,390.95 L400.40,391.89 L401.92,392.88 L403.42,393.91 L404.91,394.97 L406.39,396.09 L407.86,397.24 L409.32,398.43 L410.76,399.67 L412.20,400.95 L413.63,402.27 L415.04,403.63 L416.45,405.04 L417.85,406.49 L419.24,407.98 L420.62,409.51 L422.00,411.08 L423.36,412.69 L424.72,414.35 L426.07,416.05 L427.41,417.79 L428.75,419.57 L430.08,421.40 L431.40,423.26 L432.71,425.17 L434.02,427.12 L435.32,429.11 L436.62,431.15 L437.91,433.22 L439.19,435.34 L440.46,437.50 L441.73,439.70 L443.00,441.94 L444.25,444.23 L445.50,446.56 L446.75,448.93 L447.99,451.34 L449.22,453.79 L450.45,456.29 L451.67,458.82 L452.88,461.40 L454.09,464.02 L455.29,466.69 L456.49,469.39 L457.67,472.14 L458.86,474.93 L460.03,477.76 L461.20,480.63 L462.36,483.55 L463.51,486.50 L464.66,489.50 L465.79,492.54 L466.92,495.62 L468.03,498.75 L469.13,501.92 L470.22,505.12 L471.29,508.37 L472.33,511.67 L473.30,515.00 L473.30,590.00 L239.70,590.00 Z" fill="url(#eggTop4)"/>
<rect x="258.3" y="595" width="194.4" height="44" fill="url(#cylG)"/>
<ellipse cx="355.5" cy="639" rx="97.2" ry="19.6" fill="url(#baseG)"/>
<path d="M469.8,591.2L470.1,595.9L467.7,593.6ZM467.3,593.7L467.0,598.6L464.6,595.4ZM464.3,595.5L463.9,601.4L461.4,596.8ZM461.0,597.0L460.1,601.5L458.0,598.1ZM457.8,598.1L456.8,602.8L454.7,599.1ZM454.4,599.2L453.4,604.0L451.3,600.0ZM451.0,600.1L449.8,603.8L447.9,600.9ZM447.5,600.9L446.4,605.5L444.4,601.6ZM444.2,601.7L443.1,606.5L441.1,602.3ZM440.7,602.4L439.5,607.6L437.5,602.9ZM437.3,603.0L436.0,606.3L434.2,603.5ZM433.8,603.5L432.5,607.4L430.7,604.0ZM430.2,604.1L428.8,607.4L427.0,604.5ZM426.8,604.6L425.5,609.8L423.6,605.0ZM423.3,605.0L422.0,610.0L420.2,605.4ZM419.8,605.5L418.3,608.5L416.6,605.8ZM416.1,605.9L414.8,611.6L412.9,606.2ZM412.4,606.2L411.0,611.9L409.2,606.5ZM409.0,606.6L407.5,611.3L405.8,606.8ZM405.5,606.9L404.1,611.5L402.3,607.1ZM402.0,607.1L400.5,610.5L398.8,607.4ZM398.4,607.4L396.9,610.3L395.2,607.6ZM394.8,607.6L393.3,612.0L391.6,607.8ZM391.2,607.8L389.6,610.9L388.0,608.0ZM387.5,608.0L386.0,611.4L384.3,608.2ZM383.8,608.2L382.2,611.8L380.6,608.3ZM380.0,608.4L378.5,611.3L376.8,608.5ZM376.2,608.5L374.7,612.6L373.0,608.6ZM372.4,608.6L370.9,612.7L369.2,608.7ZM368.6,608.7L367.1,613.9L365.4,608.7ZM364.8,608.7L363.2,613.0L361.6,608.8ZM360.9,608.8L359.4,613.4L357.7,608.8ZM357.1,608.8L355.5,613.0L353.9,608.8ZM353.3,608.8L351.6,613.5L350.1,608.8ZM349.4,608.8L347.8,612.8L346.2,608.7ZM345.6,608.7L344.0,612.3L342.4,608.7ZM341.8,608.7L340.1,614.2L338.6,608.6ZM338.0,608.6L336.3,614.1L334.8,608.5ZM334.2,608.5L332.5,613.6L331.0,608.4ZM330.4,608.3L328.8,613.1L327.2,608.2ZM326.7,608.2L325.0,611.8L323.5,608.0ZM323.0,608.0L321.3,611.4L319.8,607.8ZM319.4,607.8L317.7,611.3L316.2,607.6ZM315.8,607.6L314.1,610.5L312.6,607.4ZM312.2,607.4L310.4,612.2L309.0,607.1ZM308.7,607.1L307.0,610.9L305.5,606.9ZM305.2,606.8L303.4,611.9L302.0,606.6ZM301.8,606.5L300.1,610.3L298.6,606.2ZM298.1,606.2L296.2,611.5L294.9,605.9ZM294.4,605.8L292.6,610.8L291.2,605.5ZM290.8,605.4L289.1,608.0L287.7,605.0ZM287.4,605.0L285.6,608.2L284.2,604.6ZM284.0,604.5L282.0,609.7L280.8,604.1ZM280.3,604.0L278.5,607.9L277.2,603.5ZM276.8,603.5L274.8,608.8L273.7,603.0ZM273.5,602.9L271.6,606.5L270.3,602.4ZM269.9,602.3L268.1,605.0L266.8,601.7ZM266.6,601.6L264.6,605.8L263.5,600.9ZM263.1,600.9L261.0,605.4L260.0,600.1ZM259.7,600.0L257.7,603.1L256.6,599.2ZM256.3,599.1L254.3,601.6L253.2,598.1ZM253.0,598.1L250.9,601.2L250.0,597.0ZM249.8,596.9L247.3,601.5L246.9,595.6ZM246.7,595.5L244.1,599.3L243.9,593.9ZM243.6,593.8L241.5,595.4L241.3,591.5ZM241.0,591.3L239.2,591.8L240.6,588.1ZM240.9,587.8L240.9,587.3L243.0,585.3ZM243.3,585.2L243.9,584.7L246.0,583.4ZM246.2,583.3L246.7,583.3L249.1,582.0ZM249.4,581.9L250.4,581.6L252.4,580.7ZM252.8,580.6L253.7,580.6L255.8,579.6ZM256.1,579.6L257.1,579.5L259.2,578.7ZM259.5,578.6L260.7,578.5L262.6,577.9ZM262.9,577.8L263.9,577.9L266.0,577.1ZM266.5,577.0L267.8,577.0L269.6,576.4ZM270.0,576.3L271.2,576.4L273.1,575.7ZM273.7,575.6L275.0,575.6L276.8,575.1ZM277.2,575.1L278.5,575.1L280.3,574.6ZM280.8,574.5L282.2,574.6L284.0,574.1ZM284.2,574.0L285.6,574.1L287.4,573.6ZM287.7,573.6L288.9,573.8L290.8,573.2ZM291.2,573.1L292.6,573.4L294.4,572.8ZM294.9,572.7L296.3,572.9L298.1,572.4ZM298.6,572.4L300.0,572.6L301.8,572.1ZM302.0,572.0L303.5,572.2L305.2,571.8ZM305.5,571.7L307.0,571.9L308.7,571.5ZM309.0,571.5L310.4,571.8L312.2,571.2ZM312.6,571.2L314.0,571.5L315.8,571.0ZM316.2,571.0L317.7,571.1L319.4,570.8ZM319.8,570.8L321.3,571.1L323.0,570.6ZM323.5,570.6L325.0,570.8L326.7,570.4ZM327.2,570.4L328.8,570.6L330.4,570.3ZM331.0,570.2L332.5,570.6L334.2,570.1ZM334.8,570.1L336.3,570.4L338.0,570.0ZM338.6,570.0L340.1,570.3L341.8,569.9ZM342.4,569.9L344.0,570.1L345.6,569.9ZM346.2,569.9L347.8,570.1L349.4,569.8ZM350.1,569.8L351.6,570.2L353.3,569.8ZM353.9,569.8L355.5,570.1L357.1,569.8ZM357.7,569.8L359.4,570.2L360.9,569.8ZM361.6,569.8L363.2,570.1L364.8,569.9ZM365.4,569.9L367.0,570.2L368.6,569.9ZM369.2,569.9L370.9,570.4L372.4,570.0ZM373.0,570.0L374.7,570.4L376.2,570.1ZM376.8,570.1L378.5,570.5L380.0,570.2ZM380.6,570.3L382.3,570.7L383.8,570.4ZM384.3,570.4L386.0,570.8L387.5,570.6ZM388.0,570.6L389.6,570.9L391.2,570.8ZM391.6,570.8L393.4,571.3L394.8,571.0ZM395.2,571.0L397.0,571.5L398.4,571.2ZM398.8,571.2L400.5,571.6L402.0,571.5ZM402.3,571.5L404.0,571.9L405.5,571.7ZM405.8,571.8L407.6,572.3L409.0,572.0ZM409.2,572.1L411.0,572.6L412.4,572.4ZM412.9,572.4L414.7,572.8L416.1,572.7ZM416.6,572.8L418.5,573.4L419.8,573.1ZM420.2,573.2L422.0,573.8L423.3,573.6ZM423.6,573.6L425.5,574.2L426.8,574.0ZM427.0,574.1L428.9,574.6L430.2,574.5ZM430.7,574.6L432.5,575.1L433.8,575.1ZM434.2,575.1L436.0,575.6L437.3,575.6ZM437.5,575.7L439.6,576.4L440.7,576.2ZM441.1,576.3L443.0,576.9L444.2,576.9ZM444.4,577.0L446.5,577.7L447.5,577.7ZM447.9,577.7L449.8,578.4L451.0,578.5ZM451.3,578.6L453.5,579.5L454.4,579.4ZM454.7,579.5L456.9,580.4L457.8,580.5ZM458.0,580.5L460.1,581.5L461.0,581.6ZM461.2,581.7L463.3,582.7L464.1,583.0ZM464.3,583.1L466.8,584.6L467.1,584.7ZM467.4,584.8L469.5,586.6L469.7,587.1ZM470.0,587.3L471.8,590.6L470.4,590.5Z" fill="#a8a8a8" opacity="0.75" filter="url(#bl)"/>
<ellipse cx="355.5" cy="589.0" rx="116.5" ry="21.0" fill="url(#ringG)"/>
<g transform="translate(355.5,589.0) scale(1,0.1803)"><circle r="111.5" fill="none" stroke="#80889a" stroke-width="4.5" stroke-dasharray="1.2 1.3 2.2 1.1 0.8 1.6" opacity="0.7" filter="url(#bl)"/></g>
<ellipse cx="355.5" cy="593.2" rx="97.2" ry="18.7" fill="#5262d4"/>
<g transform="translate(355.5,594.2) scale(1,0.1852)"><circle r="95.2" fill="none" stroke="#ffffff" stroke-width="3" stroke-dasharray="4 5" opacity="0.35"/></g>
<ellipse cx="355.5" cy="590.4" rx="96.7" ry="16.8" fill="url(#disc4b)"/>
<clipPath id="c41"><ellipse cx="356.5" cy="428" rx="75.9" ry="15"/></clipPath>
<ellipse cx="356.5" cy="428" rx="75.9" ry="15" fill="#3a3ad8"/>
<g clip-path="url(#c41)">
<path d="M340.6,429.7 C340.2,428.1 342.8,425.3 346.7,423.6 C350.6,421.9 357.5,420.3 364.1,419.3 C370.7,418.3 376.4,417.5 386.3,417.4 C396.2,417.3 415.8,417.0 423.4,418.6 C431.0,420.2 432.1,424.6 432.1,427.3 C432.1,430.0 428.1,432.9 423.4,434.7 C418.6,436.5 411.8,437.6 403.6,438.4 C395.4,439.2 381.4,439.8 374.0,439.6 C366.6,439.4 363.2,438.2 359.1,437.2 C355.0,436.2 352.3,434.8 349.2,433.5 C346.1,432.2 341.0,431.3 340.6,429.7Z" fill="#3f76d8" />
<path d="M366.5,424.8 C368.4,423.9 371.1,421.9 378.9,421.1 C386.7,420.3 404.8,419.2 413.5,419.8 C422.2,420.4 428.8,422.8 430.9,424.8 C433.0,426.8 431.3,430.9 425.9,431.7 C420.5,432.5 406.5,430.2 398.7,429.7 C390.9,429.2 384.0,429.0 378.9,428.5 C373.8,428.0 369.9,427.4 367.8,426.8 C365.7,426.2 364.6,425.8 366.5,424.8Z" fill="#46a6da" />
<path d="M352.0,432.0 C353.7,431.3 370.3,432.4 380.0,432.5 C389.7,432.6 401.5,432.7 410.0,432.6 C418.5,432.5 428.0,431.4 431.0,432.0 C434.0,432.6 433.2,435.1 428.0,436.0 C422.8,436.9 409.7,437.4 400.0,437.5 C390.3,437.6 378.0,437.4 370.0,436.5 C362.0,435.6 350.3,432.7 352.0,432.0Z" fill="#38c8d0" />
<path d="M380.0,435.0 C383.3,434.5 396.7,435.0 405.0,434.8 C413.3,434.6 426.3,433.1 430.0,433.6 C433.7,434.1 432.0,437.2 427.0,438.0 C422.0,438.8 407.0,438.6 400.0,438.6 C393.0,438.6 388.3,438.4 385.0,437.8 C381.7,437.2 376.7,435.5 380.0,435.0Z" fill="#70e070" />
<path d="M390.0,436.8 C392.0,436.2 405.2,436.4 412.0,436.0 C418.8,435.6 428.8,434.0 431.0,434.6 C433.2,435.2 430.2,438.6 425.0,439.4 C419.8,440.2 405.8,440.0 400.0,439.6 C394.2,439.2 388.0,437.4 390.0,436.8Z" fill="#e0e040" />
<path d="M402.0,438.2 C404.0,437.6 413.0,437.5 418.0,437.0 C423.0,436.5 430.7,434.6 432.0,435.2 C433.3,435.8 430.3,439.7 426.0,440.6 C421.7,441.5 410.0,441.0 406.0,440.6 C402.0,440.2 400.0,438.8 402.0,438.2Z" fill="#e83828" />
<rect x="275" y="405" width="165" height="45" fill="url(#shade4)"/>
</g>
<ellipse cx="356.5" cy="428" rx="75.7" ry="14.8" fill="none" stroke="#3838d8" stroke-width="0.6"/>
<clipPath id="c42"><ellipse cx="356" cy="481.2" rx="104.4" ry="20.6"/></clipPath>
<ellipse cx="356" cy="481.2" rx="104.4" ry="20.6" fill="#e04444"/>
<g clip-path="url(#c42)">
<path d="M378.0,455.0 C379.1,456.1 382.6,459.9 384.5,461.9 C386.4,463.9 386.2,465.7 389.7,467.0 C393.1,468.3 399.8,469.0 405.2,469.7 C410.6,470.4 418.9,470.7 422.4,471.4 C425.8,472.1 423.0,473.0 425.9,474.0 C428.8,475.0 435.4,476.5 439.7,477.4 C444.0,478.2 449.4,478.0 451.7,479.1 C454.0,480.2 454.2,482.6 453.4,484.3 C452.5,486.0 449.2,487.6 446.6,489.5 C444.0,491.4 441.6,493.8 438.0,496.0 C434.4,498.2 427.2,501.8 425.0,503.0 L240.0,505.0 L240.0,450.0 Z" fill="#d8e040"/>
<path d="M377.3,456.0 C378.2,457.1 380.6,460.9 382.3,462.9 C384.0,464.9 384.1,466.7 387.5,468.0 C390.9,469.3 397.6,470.0 403.0,470.7 C408.4,471.4 416.8,471.7 420.2,472.4 C423.6,473.1 420.8,474.0 423.7,475.0 C426.6,476.0 433.2,477.5 437.5,478.4 C441.8,479.2 447.2,479.0 449.5,480.1 C451.8,481.2 452.0,483.8 451.2,485.3 C450.4,486.8 447.0,487.2 444.4,488.9 C441.8,490.6 439.4,493.1 435.8,495.4 C432.2,497.6 425.0,501.2 422.8,502.4 L240.0,505.0 L240.0,450.0 Z" fill="#70e070"/>
<path d="M376.6,457.0 C377.2,458.1 378.6,461.9 380.0,463.9 C381.4,465.9 381.8,467.7 385.2,469.0 C388.6,470.3 395.2,471.0 400.7,471.7 C406.1,472.4 414.4,472.7 417.9,473.4 C421.3,474.1 418.5,475.0 421.4,476.0 C424.3,477.0 430.9,478.5 435.2,479.4 C439.5,480.2 444.9,480.0 447.2,481.1 C449.5,482.2 449.8,485.1 448.9,486.3 C448.0,487.5 444.7,486.9 442.1,488.3 C439.5,489.7 437.1,492.6 433.5,494.8 C429.9,497.1 422.7,500.6 420.5,501.8 L240.0,505.0 L240.0,450.0 Z" fill="#40d4d0"/>
<clipPath id="c42r"><path d="M240,455 L372,455 L372,482 L470,482 L470,510 L240,510Z"/></clipPath>
<g clip-path="url(#c42r)">
<g transform="translate(356,481.2) scale(1,0.197)"><circle r="103" fill="none" stroke="#e04848" stroke-width="2.6" stroke-dasharray="2.2 4"/></g>
<g transform="translate(356,481.2) scale(1,0.197)"><circle r="103" fill="none" stroke="#d8e040" stroke-width="2.6" stroke-dasharray="1.4 4.8" stroke-dashoffset="3"/></g>
</g>
<path d="M255.5,481.0 C255.5,477.8 257.9,474.5 264.0,472.0 C270.1,469.5 281.0,467.2 292.0,465.8 C303.0,464.4 320.0,464.1 330.0,463.8 C340.0,463.5 343.7,463.0 352.0,463.8 C360.3,464.6 373.2,467.8 380.0,468.7 C386.8,469.6 388.4,469.0 392.7,469.4 C396.9,469.8 402.1,470.6 405.5,471.3 C408.9,472.0 411.0,472.9 413.1,473.8 C415.2,474.8 416.9,476.0 418.2,477.0 C419.5,478.0 419.1,478.9 420.8,479.6 C422.5,480.4 426.1,481.1 428.4,481.5 C430.7,481.9 433.5,481.7 434.8,482.1 C436.1,482.5 436.7,483.2 436.1,484.0 C435.5,484.8 432.9,486.0 431.0,486.6 C429.1,487.2 428.1,487.0 424.6,487.9 C421.1,488.8 417.4,490.5 410.0,492.0 C402.6,493.5 393.3,495.8 380.0,497.0 C366.7,498.2 345.0,499.4 330.0,499.5 C315.0,499.6 301.0,498.9 290.0,497.5 C279.0,496.1 269.8,493.8 264.0,491.0 C258.2,488.2 255.5,484.2 255.5,481.0Z" fill="#38a2d8" />
<path d="M258.3,481.0 C258.3,477.8 261.1,474.5 268.0,472.0 C274.9,469.5 289.7,466.9 300.0,466.2 C310.3,465.4 321.3,467.2 330.0,467.5 C338.7,467.8 343.7,467.5 352.0,468.0 C360.3,468.5 372.1,470.1 380.0,470.7 C387.9,471.2 394.2,470.8 399.1,471.3 C404.0,471.8 407.0,472.7 409.3,473.8 C411.6,474.9 412.9,476.2 413.1,477.7 C413.3,479.2 412.5,481.4 410.6,482.8 C408.7,484.2 401.5,485.6 401.7,486.0 C401.9,486.4 408.7,485.2 411.9,485.3 C415.1,485.4 419.1,486.1 420.8,486.6 C422.5,487.1 423.6,487.9 422.1,488.5 C420.6,489.1 416.8,489.9 411.9,490.4 C407.0,490.9 398.0,491.4 392.7,491.7 C387.4,492.0 388.8,491.7 380.0,492.3 C371.2,492.9 353.3,495.0 340.0,495.5 C326.7,496.0 312.0,496.2 300.0,495.5 C288.0,494.8 274.9,493.4 268.0,491.0 C261.1,488.6 258.3,484.2 258.3,481.0Z" fill="#3c64d2" />
<path d="M318.0,462.5 C322.2,461.7 336.0,461.3 345.0,461.2 C354.0,461.1 365.2,461.5 372.0,462.0 C378.8,462.5 384.7,463.1 386.0,464.0 C387.3,464.9 383.3,466.8 380.0,467.2 C376.7,467.6 369.3,466.3 366.0,466.5 C362.7,466.7 362.7,468.4 360.0,468.5 C357.3,468.6 354.2,467.0 350.0,466.8 C345.8,466.6 340.0,467.6 335.0,467.5 C330.0,467.4 322.8,466.8 320.0,466.0 C317.2,465.2 313.8,463.3 318.0,462.5Z" fill="#40d0d0" />
<path d="M268.7,481.0 C268.7,478.8 274.8,475.4 280.0,473.5 C285.2,471.6 289.2,470.6 299.7,469.7 C310.2,468.8 329.4,467.6 342.8,467.9 C356.2,468.2 371.7,470.6 380.0,471.3 C388.3,472.0 389.1,471.5 392.7,471.9 C396.3,472.3 399.8,472.8 401.7,473.8 C403.6,474.8 404.4,476.5 404.2,477.7 C404.0,478.9 402.7,479.9 400.4,480.8 C398.1,481.7 393.6,482.4 390.2,482.8 C386.8,483.2 387.9,482.0 380.0,483.4 C372.1,484.8 356.2,490.2 342.8,491.2 C329.4,492.2 310.2,490.2 299.7,489.5 C289.2,488.8 285.2,488.4 280.0,487.0 C274.8,485.6 268.7,483.2 268.7,481.0Z" fill="#3838cc" />
<rect x="245" y="455" width="225" height="55" fill="url(#shade4)"/>
</g>
<ellipse cx="356" cy="481.2" rx="104.2" ry="20.4" fill="none" stroke="#3434d0" stroke-width="0.8"/>
<clipPath id="c43"><ellipse cx="355.9" cy="549.6" rx="117" ry="23.3"/></clipPath>
<ellipse cx="355.9" cy="549.6" rx="117" ry="23.3" fill="#c8e040"/>
<g clip-path="url(#c43)">
<path d="M474.73,550.88L470.65,556.01L457.31,554.82L460.13,551.39ZM468.48,557.44L462.49,560.36L450.23,558.80L454.26,556.85ZM460.07,561.30L453.73,563.38L442.55,561.53L446.81,560.13ZM451.23,564.09L444.75,565.70L434.67,563.61L439.02,562.53ZM442.21,566.26L435.67,567.56L426.70,565.28L431.09,564.41ZM433.11,568.01L426.52,569.08L418.66,566.64L423.08,565.93ZM423.95,569.45L417.33,570.33L410.59,567.76L415.03,567.17ZM414.75,570.63L408.12,571.35L402.49,568.67L406.94,568.19ZM405.53,571.59L398.88,572.17L394.37,569.41L398.84,569.02ZM396.29,572.36L389.63,572.81L386.24,569.98L390.71,569.69ZM387.04,572.96L380.37,573.28L378.10,570.41L382.58,570.20ZM377.78,573.39L371.10,573.60L369.96,570.71L374.44,570.56ZM368.51,573.66L361.83,573.77L361.81,570.87L366.29,570.79ZM359.24,573.79L352.56,573.79L353.66,570.90L358.14,570.90ZM349.97,573.77L343.29,573.66L345.51,570.79L349.99,570.87ZM340.70,573.60L334.02,573.39L337.36,570.56L341.84,570.71ZM331.43,573.28L324.76,572.96L329.22,570.20L333.70,570.41ZM322.17,572.81L315.51,572.36L321.09,569.69L325.56,569.98ZM312.92,572.17L306.27,571.59L312.96,569.02L317.43,569.41ZM303.68,571.35L297.05,570.63L304.86,568.19L309.31,568.67ZM294.47,570.33L287.85,569.45L296.77,567.17L301.21,567.76ZM285.28,569.08L278.69,568.01L288.72,565.93L293.14,566.64ZM276.13,567.56L269.59,566.26L280.71,564.41L285.10,565.28ZM267.05,565.70L260.57,564.09L272.78,562.53L277.13,563.61ZM258.07,563.38L251.73,561.30L264.99,560.13L269.25,561.53ZM249.31,560.36L243.32,557.44L257.54,556.85L261.57,558.80ZM241.15,556.01L237.07,550.88L251.67,551.39L254.49,554.82ZM237.07,548.32L241.15,543.19L254.49,544.38L251.67,547.81ZM243.32,541.76L249.31,538.84L261.57,540.40L257.54,542.35ZM251.73,537.90L258.07,535.82L269.25,537.67L264.99,539.07ZM260.57,535.11L267.05,533.50L277.13,535.59L272.78,536.67ZM269.59,532.94L276.13,531.64L285.10,533.92L280.71,534.79ZM278.69,531.19L285.28,530.12L293.14,532.56L288.72,533.27ZM287.85,529.75L294.47,528.87L301.21,531.44L296.77,532.03ZM297.05,528.57L303.68,527.85L309.31,530.53L304.86,531.01ZM306.27,527.61L312.92,527.03L317.43,529.79L312.96,530.18ZM315.51,526.84L322.17,526.39L325.56,529.22L321.09,529.51ZM324.76,526.24L331.43,525.92L333.70,528.79L329.22,529.00ZM334.02,525.81L340.70,525.60L341.84,528.49L337.36,528.64ZM343.29,525.54L349.97,525.43L349.99,528.33L345.51,528.41ZM352.56,525.41L359.24,525.41L358.14,528.30L353.66,528.30ZM361.83,525.43L368.51,525.54L366.29,528.41L361.81,528.33ZM371.10,525.60L377.78,525.81L374.44,528.64L369.96,528.49ZM380.37,525.92L387.04,526.24L382.58,529.00L378.10,528.79ZM389.63,526.39L396.29,526.84L390.71,529.51L386.24,529.22ZM398.88,527.03L405.53,527.61L398.84,530.18L394.37,529.79ZM408.12,527.85L414.75,528.57L406.94,531.01L402.49,530.53ZM417.33,528.87L423.95,529.75L415.03,532.03L410.59,531.44ZM426.52,530.12L433.11,531.19L423.08,533.27L418.66,532.56ZM435.67,531.64L442.21,532.94L431.09,534.79L426.70,533.92ZM444.75,533.50L451.23,535.11L439.02,536.67L434.67,535.59ZM453.73,535.82L460.07,537.90L446.81,539.07L442.55,537.67ZM462.49,538.84L468.48,541.76L454.26,542.35L450.23,540.40ZM470.65,543.19L474.73,548.32L460.13,547.81L457.31,544.38Z" fill="#e83428" stroke="#e83428" stroke-width="0.4" stroke-linejoin="round"/>
<ellipse cx="355.9" cy="549.6" rx="104.3" ry="21.2" fill="#50e070"/>
<ellipse cx="355.9" cy="549.6" rx="103" ry="20.9" fill="#30d0d8"/>
<ellipse cx="355.9" cy="549.6" rx="99.5" ry="20.2" fill="#3a90e4"/>
<ellipse cx="355.9" cy="549.6" rx="94" ry="19.4" fill="#3652e0"/>
<ellipse cx="356.5" cy="549.6" rx="87.5" ry="18.6" fill="#4444ee"/>
<ellipse cx="370" cy="549.4" rx="72" ry="16" fill="#4a4af8" opacity="0.8"/>
<path d="M393.0,541.5 C393.2,540.4 401.2,541.6 405.0,542.5 C408.8,543.4 413.5,545.0 416.0,547.0 C418.5,549.0 420.3,553.0 420.0,554.5 C419.7,556.0 416.7,556.9 414.0,556.0 C411.3,555.1 407.5,551.4 404.0,549.0 C400.5,546.6 392.8,542.6 393.0,541.5Z" fill="#4c8cf8" />
<rect x="235" y="520" width="245" height="60" fill="url(#shade4)"/>
</g>
<ellipse cx="355.9" cy="549.6" rx="117" ry="23.3" fill="none" stroke="#4050c0" stroke-width="0.6"/>
<text x="439.0" y="431.0" class="nb4">1</text>
<text x="465.5" y="485.5" class="nb4">2</text>
<text x="477.0" y="556.0" class="nb4">3</text>
<text x="474.5" y="603.5" class="nb4">4</text>
<rect x="188" y="407.30" width="15.7" height="22.43" fill="#ff4400"/>
<rect x="188" y="429.43" width="15.7" height="22.43" fill="#ffb000"/>
<rect x="188" y="451.57" width="15.7" height="22.43" fill="#f0ff00"/>
<rect x="188" y="473.70" width="15.7" height="22.43" fill="#a0ff00"/>
<rect x="188" y="495.83" width="15.7" height="22.43" fill="#00f400"/>
<rect x="188" y="517.97" width="15.7" height="22.43" fill="#00ffa0"/>
<rect x="188" y="540.10" width="15.7" height="22.43" fill="#00ffe0"/>
<rect x="188" y="562.23" width="15.7" height="22.43" fill="#00b0ff"/>
<rect x="188" y="584.37" width="15.7" height="22.43" fill="#0040ff"/>
<line x1="203.7" y1="407.3" x2="206" y2="407.3" stroke="#777" stroke-width="0.8"/>
<text x="211" y="415.6" class="lb4">1.0</text>
<line x1="203.7" y1="429.4" x2="206" y2="429.4" stroke="#777" stroke-width="0.8"/>
<text x="211" y="437.7" class="lb4">0.9</text>
<line x1="203.7" y1="451.6" x2="206" y2="451.6" stroke="#777" stroke-width="0.8"/>
<text x="211" y="459.9" class="lb4">0.8</text>
<line x1="203.7" y1="473.7" x2="206" y2="473.7" stroke="#777" stroke-width="0.8"/>
<text x="211" y="482.0" class="lb4">0.7</text>
<line x1="203.7" y1="495.8" x2="206" y2="495.8" stroke="#777" stroke-width="0.8"/>
<text x="211" y="504.1" class="lb4">0.6</text>
<line x1="203.7" y1="518.0" x2="206" y2="518.0" stroke="#777" stroke-width="0.8"/>
<text x="211" y="526.3" class="lb4">0.5</text>
<line x1="203.7" y1="540.1" x2="206" y2="540.1" stroke="#777" stroke-width="0.8"/>
<text x="211" y="548.4" class="lb4">0.4</text>
<line x1="203.7" y1="562.2" x2="206" y2="562.2" stroke="#777" stroke-width="0.8"/>
<text x="211" y="570.5" class="lb4">0.3</text>
<line x1="203.7" y1="584.4" x2="206" y2="584.4" stroke="#777" stroke-width="0.8"/>
<text x="211" y="592.7" class="lb4">0.2</text>
<line x1="203.7" y1="606.5" x2="206" y2="606.5" stroke="#777" stroke-width="0.8"/>
<text x="211" y="614.8" class="lb4">0.1</text>
<text x="175.5" y="394.6" class="zh" font-size="12.5" fill="#111" textLength="79" lengthAdjust="spacingAndGlyphs">co体积分数(%)</text>
<line x1="221.3" y1="650.3" x2="221.3" y2="633.1" stroke="#2424c4" stroke-width="1.3"/>
<path d="M221.3,627.9 l-2.6,5.6 h5.2z" fill="#1818d0"/>
<line x1="221.3" y1="650.3" x2="206.7" y2="650.3" stroke="#108010" stroke-width="1.3"/>
<path d="M201.5,650.3 l5.6,-2.6 v5.2z" fill="#108010"/>
<ellipse cx="221.8" cy="647.0" rx="2.1" ry="2.4" fill="#e81010"/>
<circle cx="209.7" cy="636.3" r="2.1" fill="#20d0e0"/>
<text x="222.7" y="622.7" class="ax" fill="#8888f0">Z</text>
<text x="222.8" y="643.7" class="ax" fill="#f09090">X</text>
<text x="192.4" y="649.6" class="ax" fill="#90d890">Y</text>
</svg><div class="cap" style="left:59.4px;top:355.5px">图</div><div class="cap" style="left:80.2px;top:357.3px;font-size:17px">2</div><div class="cap" style="left:106.7px;top:355.5px">燃烧室烟气流场分布图</div><div class="cap" style="left:394.7px;top:355.5px">图</div><div class="cap" style="left:415.5px;top:357.3px;font-size:17px">3</div><div class="cap" style="left:442.0px;top:355.5px">燃烧室温度分布截面图</div><div class="cap" style="left:225.2px;top:678.5px">图</div><div class="cap" style="left:246.0px;top:680.3px;font-size:17px">4</div><div class="cap" style="left:272.5px;top:678.5px">燃烧室燃气分布截面图</div></body></html>
